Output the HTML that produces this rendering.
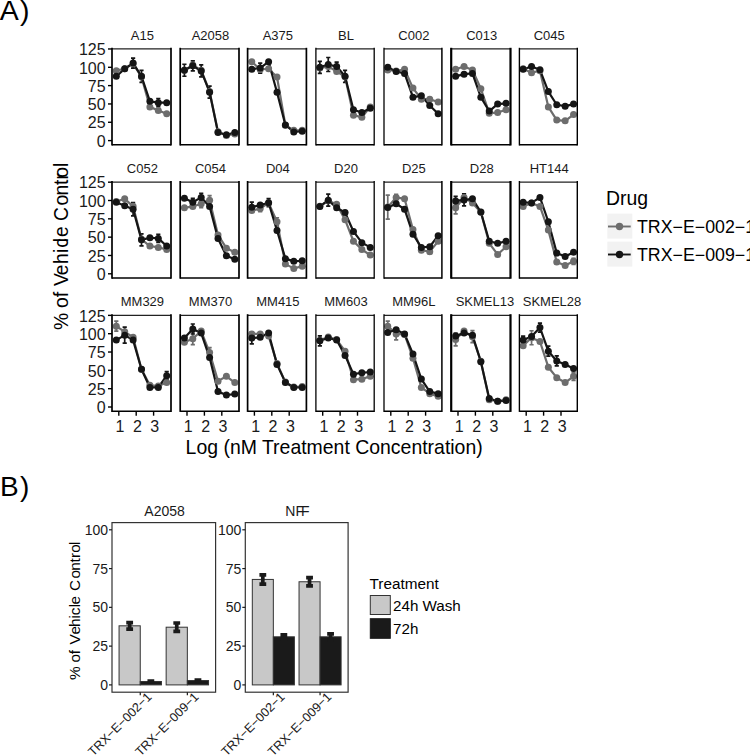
<!DOCTYPE html><html><head><meta charset="utf-8"><style>html,body{margin:0;padding:0;background:#fff;}svg{display:block;}text{font-family:"Liberation Sans", sans-serif;}</style></head><body>
<svg width="750" height="755" viewBox="0 0 750 755">
<rect width="750" height="755" fill="#fff"/>
<text x="-0.3" y="19.6" font-size="28.5" fill="#000">A<tspan dx="1.4">)</tspan></text>
<text x="142.40" y="39.60" font-size="13" text-anchor="middle" fill="#1a1a1a">A15</text>
<path d="M116.30 69.17V72.17M114.20 69.17H118.40M114.20 72.17H118.40" stroke="#6d6d6d" stroke-width="1.7" fill="none"/>
<path d="M124.70 67.27V70.27M122.60 67.27H126.80M122.60 70.27H126.80" stroke="#6d6d6d" stroke-width="1.7" fill="none"/>
<path d="M133.10 62.13V65.13M131.00 62.13H135.20M131.00 65.13H135.20" stroke="#6d6d6d" stroke-width="1.7" fill="none"/>
<path d="M141.50 75.33V78.33M139.40 75.33H143.60M139.40 78.33H143.60" stroke="#6d6d6d" stroke-width="1.7" fill="none"/>
<path d="M149.90 105.38V108.38M147.80 105.38H152.00M147.80 108.38H152.00" stroke="#6d6d6d" stroke-width="1.7" fill="none"/>
<path d="M158.30 108.90V111.90M156.20 108.90H160.40M156.20 111.90H160.40" stroke="#6d6d6d" stroke-width="1.7" fill="none"/>
<path d="M166.70 112.27V115.27M164.60 112.27H168.80M164.60 115.27H168.80" stroke="#6d6d6d" stroke-width="1.7" fill="none"/>
<path d="M116.30 74.82V77.82M114.20 74.82H118.40M114.20 77.82H118.40" stroke="#151515" stroke-width="1.7" fill="none"/>
<path d="M124.70 67.27V70.27M122.60 67.27H126.80M122.60 70.27H126.80" stroke="#151515" stroke-width="1.7" fill="none"/>
<path d="M133.10 58.12V68.12M131.00 58.12H135.20M131.00 68.12H135.20" stroke="#151515" stroke-width="1.7" fill="none"/>
<path d="M141.50 70.32V82.32M139.40 70.32H143.60M139.40 82.32H143.60" stroke="#151515" stroke-width="1.7" fill="none"/>
<path d="M149.90 99.81V102.81M147.80 99.81H152.00M147.80 102.81H152.00" stroke="#151515" stroke-width="1.7" fill="none"/>
<path d="M158.30 98.70V106.70M156.20 98.70H160.40M156.20 106.70H160.40" stroke="#151515" stroke-width="1.7" fill="none"/>
<path d="M166.70 101.20V104.20M164.60 101.20H168.80M164.60 104.20H168.80" stroke="#151515" stroke-width="1.7" fill="none"/>
<polyline points="116.30,70.67 124.70,68.77 133.10,63.63 141.50,76.83 149.90,106.88 158.30,110.40 166.70,113.77" fill="none" stroke="#6d6d6d" stroke-width="2.2" stroke-linejoin="round"/>
<polyline points="116.30,76.32 124.70,68.77 133.10,63.12 141.50,76.32 149.90,101.31 158.30,102.70 166.70,102.70" fill="none" stroke="#151515" stroke-width="2.2" stroke-linejoin="round"/>
<circle cx="116.30" cy="70.67" r="3.50" fill="#6d6d6d"/>
<circle cx="124.70" cy="68.77" r="3.50" fill="#6d6d6d"/>
<circle cx="133.10" cy="63.63" r="3.50" fill="#6d6d6d"/>
<circle cx="141.50" cy="76.83" r="3.50" fill="#6d6d6d"/>
<circle cx="149.90" cy="106.88" r="3.50" fill="#6d6d6d"/>
<circle cx="158.30" cy="110.40" r="3.50" fill="#6d6d6d"/>
<circle cx="166.70" cy="113.77" r="3.50" fill="#6d6d6d"/>
<circle cx="116.30" cy="76.32" r="3.50" fill="#151515"/>
<circle cx="124.70" cy="68.77" r="3.50" fill="#151515"/>
<circle cx="133.10" cy="63.12" r="3.50" fill="#151515"/>
<circle cx="141.50" cy="76.32" r="3.50" fill="#151515"/>
<circle cx="149.90" cy="101.31" r="3.50" fill="#151515"/>
<circle cx="158.30" cy="102.70" r="3.50" fill="#151515"/>
<circle cx="166.70" cy="102.70" r="3.50" fill="#151515"/>
<path d="M112.00 48.90H171.00" stroke="#222" stroke-width="1.2" fill="none"/>
<path d="M112.00 144.80H171.00" stroke="#000" stroke-width="1.4" fill="none"/>
<path d="M112.00 47.80V145.50" stroke="#000" stroke-width="1.70" fill="none"/>
<path d="M171.00 47.80V145.50" stroke="#000" stroke-width="1.70" fill="none"/>
<line x1="108.00" y1="140.60" x2="112.00" y2="140.60" stroke="#000" stroke-width="1.4"/>
<text x="105.6" y="146.80" font-size="16" text-anchor="end" fill="#1a1a1a">0</text>
<line x1="108.00" y1="122.27" x2="112.00" y2="122.27" stroke="#000" stroke-width="1.4"/>
<text x="105.6" y="128.47" font-size="16" text-anchor="end" fill="#1a1a1a">25</text>
<line x1="108.00" y1="103.95" x2="112.00" y2="103.95" stroke="#000" stroke-width="1.4"/>
<text x="105.6" y="110.15" font-size="16" text-anchor="end" fill="#1a1a1a">50</text>
<line x1="108.00" y1="85.62" x2="112.00" y2="85.62" stroke="#000" stroke-width="1.4"/>
<text x="105.6" y="91.83" font-size="16" text-anchor="end" fill="#1a1a1a">75</text>
<line x1="108.00" y1="67.30" x2="112.00" y2="67.30" stroke="#000" stroke-width="1.4"/>
<text x="105.6" y="73.50" font-size="16" text-anchor="end" fill="#1a1a1a">100</text>
<line x1="108.00" y1="48.97" x2="112.00" y2="48.97" stroke="#000" stroke-width="1.4"/>
<text x="105.6" y="55.17" font-size="16" text-anchor="end" fill="#1a1a1a">125</text>
<text x="210.50" y="39.60" font-size="13" text-anchor="middle" fill="#1a1a1a">A2058</text>
<path d="M184.40 68.73V71.73M182.30 68.73H186.50M182.30 71.73H186.50" stroke="#6d6d6d" stroke-width="1.7" fill="none"/>
<path d="M192.80 63.60V66.60M190.70 63.60H194.90M190.70 66.60H194.90" stroke="#6d6d6d" stroke-width="1.7" fill="none"/>
<path d="M201.20 68.73V71.73M199.10 68.73H203.30M199.10 71.73H203.30" stroke="#6d6d6d" stroke-width="1.7" fill="none"/>
<path d="M209.60 89.99V92.99M207.50 89.99H211.70M207.50 92.99H211.70" stroke="#6d6d6d" stroke-width="1.7" fill="none"/>
<path d="M218.00 130.30V133.30M215.90 130.30H220.10M215.90 133.30H220.10" stroke="#6d6d6d" stroke-width="1.7" fill="none"/>
<path d="M226.40 133.97V136.97M224.30 133.97H228.50M224.30 136.97H228.50" stroke="#6d6d6d" stroke-width="1.7" fill="none"/>
<path d="M234.80 132.50V135.50M232.70 132.50H236.90M232.70 135.50H236.90" stroke="#6d6d6d" stroke-width="1.7" fill="none"/>
<path d="M184.40 64.23V76.23M182.30 64.23H186.50M182.30 76.23H186.50" stroke="#151515" stroke-width="1.7" fill="none"/>
<path d="M192.80 60.83V70.83M190.70 60.83H194.90M190.70 70.83H194.90" stroke="#151515" stroke-width="1.7" fill="none"/>
<path d="M201.20 64.96V76.96M199.10 64.96H203.30M199.10 76.96H203.30" stroke="#151515" stroke-width="1.7" fill="none"/>
<path d="M209.60 86.22V98.22M207.50 86.22H211.70M207.50 98.22H211.70" stroke="#151515" stroke-width="1.7" fill="none"/>
<path d="M218.00 131.04V134.04M215.90 131.04H220.10M215.90 134.04H220.10" stroke="#151515" stroke-width="1.7" fill="none"/>
<path d="M226.40 133.24V136.24M224.30 133.24H228.50M224.30 136.24H228.50" stroke="#151515" stroke-width="1.7" fill="none"/>
<path d="M234.80 131.04V134.04M232.70 131.04H236.90M232.70 134.04H236.90" stroke="#151515" stroke-width="1.7" fill="none"/>
<polyline points="184.40,70.23 192.80,65.10 201.20,70.23 209.60,91.49 218.00,131.80 226.40,135.47 234.80,134.00" fill="none" stroke="#6d6d6d" stroke-width="2.2" stroke-linejoin="round"/>
<polyline points="184.40,70.23 192.80,65.83 201.20,70.96 209.60,92.22 218.00,132.54 226.40,134.74 234.80,132.54" fill="none" stroke="#151515" stroke-width="2.2" stroke-linejoin="round"/>
<circle cx="184.40" cy="70.23" r="3.50" fill="#6d6d6d"/>
<circle cx="192.80" cy="65.10" r="3.50" fill="#6d6d6d"/>
<circle cx="201.20" cy="70.23" r="3.50" fill="#6d6d6d"/>
<circle cx="209.60" cy="91.49" r="3.50" fill="#6d6d6d"/>
<circle cx="218.00" cy="131.80" r="3.50" fill="#6d6d6d"/>
<circle cx="226.40" cy="135.47" r="3.50" fill="#6d6d6d"/>
<circle cx="234.80" cy="134.00" r="3.50" fill="#6d6d6d"/>
<circle cx="184.40" cy="70.23" r="3.50" fill="#151515"/>
<circle cx="192.80" cy="65.83" r="3.50" fill="#151515"/>
<circle cx="201.20" cy="70.96" r="3.50" fill="#151515"/>
<circle cx="209.60" cy="92.22" r="3.50" fill="#151515"/>
<circle cx="218.00" cy="132.54" r="3.50" fill="#151515"/>
<circle cx="226.40" cy="134.74" r="3.50" fill="#151515"/>
<circle cx="234.80" cy="132.54" r="3.50" fill="#151515"/>
<path d="M180.20 48.90H239.00" stroke="#222" stroke-width="1.2" fill="none"/>
<path d="M180.20 144.80H239.00" stroke="#000" stroke-width="1.4" fill="none"/>
<path d="M180.20 47.80V145.50" stroke="#000" stroke-width="1.70" fill="none"/>
<path d="M239.00 47.80V145.50" stroke="#000" stroke-width="1.70" fill="none"/>
<text x="277.90" y="39.60" font-size="13" text-anchor="middle" fill="#1a1a1a">A375</text>
<path d="M251.80 60.16V63.16M249.70 60.16H253.90M249.70 63.16H253.90" stroke="#6d6d6d" stroke-width="1.7" fill="none"/>
<path d="M260.20 68.00V71.00M258.10 68.00H262.30M258.10 71.00H262.30" stroke="#6d6d6d" stroke-width="1.7" fill="none"/>
<path d="M268.60 67.27V70.27M266.50 67.27H270.70M266.50 70.27H270.70" stroke="#6d6d6d" stroke-width="1.7" fill="none"/>
<path d="M277.00 75.48V78.48M274.90 75.48H279.10M274.90 78.48H279.10" stroke="#6d6d6d" stroke-width="1.7" fill="none"/>
<path d="M285.40 123.71V126.71M283.30 123.71H287.50M283.30 126.71H287.50" stroke="#6d6d6d" stroke-width="1.7" fill="none"/>
<path d="M293.80 128.84V131.84M291.70 128.84H295.90M291.70 131.84H295.90" stroke="#6d6d6d" stroke-width="1.7" fill="none"/>
<path d="M302.20 128.84V131.84M300.10 128.84H304.30M300.10 131.84H304.30" stroke="#6d6d6d" stroke-width="1.7" fill="none"/>
<path d="M251.80 67.78V70.78M249.70 67.78H253.90M249.70 70.78H253.90" stroke="#151515" stroke-width="1.7" fill="none"/>
<path d="M260.20 63.03V73.03M258.10 63.03H262.30M258.10 73.03H262.30" stroke="#151515" stroke-width="1.7" fill="none"/>
<path d="M268.60 60.16V63.16M266.50 60.16H270.70M266.50 63.16H270.70" stroke="#151515" stroke-width="1.7" fill="none"/>
<path d="M277.00 90.72V93.72M274.90 90.72H279.10M274.90 93.72H279.10" stroke="#151515" stroke-width="1.7" fill="none"/>
<path d="M285.40 123.49V126.49M283.30 123.49H287.50M283.30 126.49H287.50" stroke="#151515" stroke-width="1.7" fill="none"/>
<path d="M293.80 130.38V133.38M291.70 130.38H295.90M291.70 133.38H295.90" stroke="#151515" stroke-width="1.7" fill="none"/>
<path d="M302.20 129.72V132.72M300.10 129.72H304.30M300.10 132.72H304.30" stroke="#151515" stroke-width="1.7" fill="none"/>
<polyline points="251.80,61.66 260.20,69.50 268.60,68.77 277.00,76.98 285.40,125.21 293.80,130.34 302.20,130.34" fill="none" stroke="#6d6d6d" stroke-width="2.2" stroke-linejoin="round"/>
<polyline points="251.80,69.28 260.20,68.03 268.60,61.66 277.00,92.22 285.40,124.99 293.80,131.88 302.20,131.22" fill="none" stroke="#151515" stroke-width="2.2" stroke-linejoin="round"/>
<circle cx="251.80" cy="61.66" r="3.50" fill="#6d6d6d"/>
<circle cx="260.20" cy="69.50" r="3.50" fill="#6d6d6d"/>
<circle cx="268.60" cy="68.77" r="3.50" fill="#6d6d6d"/>
<circle cx="277.00" cy="76.98" r="3.50" fill="#6d6d6d"/>
<circle cx="285.40" cy="125.21" r="3.50" fill="#6d6d6d"/>
<circle cx="293.80" cy="130.34" r="3.50" fill="#6d6d6d"/>
<circle cx="302.20" cy="130.34" r="3.50" fill="#6d6d6d"/>
<circle cx="251.80" cy="69.28" r="3.50" fill="#151515"/>
<circle cx="260.20" cy="68.03" r="3.50" fill="#151515"/>
<circle cx="268.60" cy="61.66" r="3.50" fill="#151515"/>
<circle cx="277.00" cy="92.22" r="3.50" fill="#151515"/>
<circle cx="285.40" cy="124.99" r="3.50" fill="#151515"/>
<circle cx="293.80" cy="131.88" r="3.50" fill="#151515"/>
<circle cx="302.20" cy="131.22" r="3.50" fill="#151515"/>
<path d="M247.60 48.90H306.40" stroke="#222" stroke-width="1.2" fill="none"/>
<path d="M247.60 144.80H306.40" stroke="#000" stroke-width="1.4" fill="none"/>
<path d="M247.60 47.80V145.50" stroke="#000" stroke-width="1.70" fill="none"/>
<path d="M306.40 47.80V145.50" stroke="#000" stroke-width="1.70" fill="none"/>
<text x="345.95" y="39.60" font-size="13" text-anchor="middle" fill="#1a1a1a">BL</text>
<path d="M319.85 66.53V69.53M317.75 66.53H321.95M317.75 69.53H321.95" stroke="#6d6d6d" stroke-width="1.7" fill="none"/>
<path d="M328.25 65.07V68.07M326.15 65.07H330.35M326.15 68.07H330.35" stroke="#6d6d6d" stroke-width="1.7" fill="none"/>
<path d="M336.65 69.90V72.90M334.55 69.90H338.75M334.55 72.90H338.75" stroke="#6d6d6d" stroke-width="1.7" fill="none"/>
<path d="M345.05 75.33V78.33M342.95 75.33H347.15M342.95 78.33H347.15" stroke="#6d6d6d" stroke-width="1.7" fill="none"/>
<path d="M353.45 113.66V116.66M351.35 113.66H355.55M351.35 116.66H355.55" stroke="#6d6d6d" stroke-width="1.7" fill="none"/>
<path d="M361.85 115.79V118.79M359.75 115.79H363.95M359.75 118.79H363.95" stroke="#6d6d6d" stroke-width="1.7" fill="none"/>
<path d="M370.25 105.38V108.38M368.15 105.38H372.35M368.15 108.38H372.35" stroke="#6d6d6d" stroke-width="1.7" fill="none"/>
<path d="M319.85 61.30V73.30M317.75 61.30H321.95M317.75 73.30H321.95" stroke="#151515" stroke-width="1.7" fill="none"/>
<path d="M328.25 57.51V71.51M326.15 57.51H330.35M326.15 71.51H330.35" stroke="#151515" stroke-width="1.7" fill="none"/>
<path d="M336.65 62.07V71.07M334.55 62.07H338.75M334.55 71.07H338.75" stroke="#151515" stroke-width="1.7" fill="none"/>
<path d="M345.05 70.32V82.32M342.95 70.32H347.15M342.95 82.32H347.15" stroke="#151515" stroke-width="1.7" fill="none"/>
<path d="M353.45 108.17V111.17M351.35 108.17H355.55M351.35 111.17H355.55" stroke="#151515" stroke-width="1.7" fill="none"/>
<path d="M361.85 111.03V114.03M359.75 111.03H363.95M359.75 114.03H363.95" stroke="#151515" stroke-width="1.7" fill="none"/>
<path d="M370.25 106.85V109.85M368.15 106.85H372.35M368.15 109.85H372.35" stroke="#151515" stroke-width="1.7" fill="none"/>
<polyline points="319.85,68.03 328.25,66.57 336.65,71.40 345.05,76.83 353.45,115.16 361.85,117.29 370.25,106.88" fill="none" stroke="#6d6d6d" stroke-width="2.2" stroke-linejoin="round"/>
<polyline points="319.85,67.30 328.25,64.51 336.65,66.57 345.05,76.32 353.45,109.67 361.85,112.53 370.25,108.35" fill="none" stroke="#151515" stroke-width="2.2" stroke-linejoin="round"/>
<circle cx="319.85" cy="68.03" r="3.50" fill="#6d6d6d"/>
<circle cx="328.25" cy="66.57" r="3.50" fill="#6d6d6d"/>
<circle cx="336.65" cy="71.40" r="3.50" fill="#6d6d6d"/>
<circle cx="345.05" cy="76.83" r="3.50" fill="#6d6d6d"/>
<circle cx="353.45" cy="115.16" r="3.50" fill="#6d6d6d"/>
<circle cx="361.85" cy="117.29" r="3.50" fill="#6d6d6d"/>
<circle cx="370.25" cy="106.88" r="3.50" fill="#6d6d6d"/>
<circle cx="319.85" cy="67.30" r="3.50" fill="#151515"/>
<circle cx="328.25" cy="64.51" r="3.50" fill="#151515"/>
<circle cx="336.65" cy="66.57" r="3.50" fill="#151515"/>
<circle cx="345.05" cy="76.32" r="3.50" fill="#151515"/>
<circle cx="353.45" cy="109.67" r="3.50" fill="#151515"/>
<circle cx="361.85" cy="112.53" r="3.50" fill="#151515"/>
<circle cx="370.25" cy="108.35" r="3.50" fill="#151515"/>
<path d="M315.90 48.90H374.20" stroke="#222" stroke-width="1.2" fill="none"/>
<path d="M315.90 144.80H374.20" stroke="#000" stroke-width="1.4" fill="none"/>
<path d="M315.90 47.80V145.50" stroke="#000" stroke-width="1.30" fill="none"/>
<path d="M374.20 47.80V145.50" stroke="#000" stroke-width="1.30" fill="none"/>
<text x="413.85" y="39.60" font-size="13" text-anchor="middle" fill="#1a1a1a">C002</text>
<path d="M387.75 68.51V71.51M385.65 68.51H389.85M385.65 71.51H389.85" stroke="#6d6d6d" stroke-width="1.7" fill="none"/>
<path d="M396.15 69.46V72.46M394.05 69.46H398.25M394.05 72.46H398.25" stroke="#6d6d6d" stroke-width="1.7" fill="none"/>
<path d="M404.55 67.78V70.78M402.45 67.78H406.65M402.45 70.78H406.65" stroke="#6d6d6d" stroke-width="1.7" fill="none"/>
<path d="M412.95 86.62V89.62M410.85 86.62H415.05M410.85 89.62H415.05" stroke="#6d6d6d" stroke-width="1.7" fill="none"/>
<path d="M421.35 97.69V100.69M419.25 97.69H423.45M419.25 100.69H423.45" stroke="#6d6d6d" stroke-width="1.7" fill="none"/>
<path d="M429.75 97.69V100.69M427.65 97.69H431.85M427.65 100.69H431.85" stroke="#6d6d6d" stroke-width="1.7" fill="none"/>
<path d="M438.15 100.47V103.47M436.05 100.47H440.25M436.05 103.47H440.25" stroke="#6d6d6d" stroke-width="1.7" fill="none"/>
<path d="M387.75 65.80V68.80M385.65 65.80H389.85M385.65 68.80H389.85" stroke="#151515" stroke-width="1.7" fill="none"/>
<path d="M396.15 69.90V72.90M394.05 69.90H398.25M394.05 72.90H398.25" stroke="#151515" stroke-width="1.7" fill="none"/>
<path d="M404.55 71.96V74.96M402.45 71.96H406.65M402.45 74.96H406.65" stroke="#151515" stroke-width="1.7" fill="none"/>
<path d="M412.95 95.71V98.71M410.85 95.71H415.05M410.85 98.71H415.05" stroke="#151515" stroke-width="1.7" fill="none"/>
<path d="M421.35 94.31V97.31M419.25 94.31H423.45M419.25 97.31H423.45" stroke="#151515" stroke-width="1.7" fill="none"/>
<path d="M429.75 103.99V106.99M427.65 103.99H431.85M427.65 106.99H431.85" stroke="#151515" stroke-width="1.7" fill="none"/>
<path d="M438.15 112.27V115.27M436.05 112.27H440.25M436.05 115.27H440.25" stroke="#151515" stroke-width="1.7" fill="none"/>
<polyline points="387.75,70.01 396.15,70.96 404.55,69.28 412.95,88.12 421.35,99.19 429.75,99.19 438.15,101.97" fill="none" stroke="#6d6d6d" stroke-width="2.2" stroke-linejoin="round"/>
<polyline points="387.75,67.30 396.15,71.40 404.55,73.46 412.95,97.21 421.35,95.81 429.75,105.49 438.15,113.77" fill="none" stroke="#151515" stroke-width="2.2" stroke-linejoin="round"/>
<circle cx="387.75" cy="70.01" r="3.50" fill="#6d6d6d"/>
<circle cx="396.15" cy="70.96" r="3.50" fill="#6d6d6d"/>
<circle cx="404.55" cy="69.28" r="3.50" fill="#6d6d6d"/>
<circle cx="412.95" cy="88.12" r="3.50" fill="#6d6d6d"/>
<circle cx="421.35" cy="99.19" r="3.50" fill="#6d6d6d"/>
<circle cx="429.75" cy="99.19" r="3.50" fill="#6d6d6d"/>
<circle cx="438.15" cy="101.97" r="3.50" fill="#6d6d6d"/>
<circle cx="387.75" cy="67.30" r="3.50" fill="#151515"/>
<circle cx="396.15" cy="71.40" r="3.50" fill="#151515"/>
<circle cx="404.55" cy="73.46" r="3.50" fill="#151515"/>
<circle cx="412.95" cy="97.21" r="3.50" fill="#151515"/>
<circle cx="421.35" cy="95.81" r="3.50" fill="#151515"/>
<circle cx="429.75" cy="105.49" r="3.50" fill="#151515"/>
<circle cx="438.15" cy="113.77" r="3.50" fill="#151515"/>
<path d="M384.00 48.90H441.90" stroke="#222" stroke-width="1.2" fill="none"/>
<path d="M384.00 144.80H441.90" stroke="#000" stroke-width="1.4" fill="none"/>
<path d="M384.00 47.80V145.50" stroke="#000" stroke-width="1.30" fill="none"/>
<path d="M441.90 47.80V145.50" stroke="#000" stroke-width="1.50" fill="none"/>
<text x="481.75" y="39.60" font-size="13" text-anchor="middle" fill="#1a1a1a">C013</text>
<path d="M455.65 67.78V70.78M453.55 67.78H457.75M453.55 70.78H457.75" stroke="#6d6d6d" stroke-width="1.7" fill="none"/>
<path d="M464.05 65.07V68.07M461.95 65.07H466.15M461.95 68.07H466.15" stroke="#6d6d6d" stroke-width="1.7" fill="none"/>
<path d="M472.45 68.51V71.51M470.35 68.51H474.55M470.35 71.51H474.55" stroke="#6d6d6d" stroke-width="1.7" fill="none"/>
<path d="M480.85 87.28V90.28M478.75 87.28H482.95M478.75 90.28H482.95" stroke="#6d6d6d" stroke-width="1.7" fill="none"/>
<path d="M489.25 111.69V114.69M487.15 111.69H491.35M487.15 114.69H491.35" stroke="#6d6d6d" stroke-width="1.7" fill="none"/>
<path d="M497.65 111.03V114.03M495.55 111.03H499.75M495.55 114.03H499.75" stroke="#6d6d6d" stroke-width="1.7" fill="none"/>
<path d="M506.05 108.17V111.17M503.95 108.17H508.15M503.95 111.17H508.15" stroke="#6d6d6d" stroke-width="1.7" fill="none"/>
<path d="M455.65 74.82V77.82M453.55 74.82H457.75M453.55 77.82H457.75" stroke="#151515" stroke-width="1.7" fill="none"/>
<path d="M464.05 72.69V75.69M461.95 72.69H466.15M461.95 75.69H466.15" stroke="#151515" stroke-width="1.7" fill="none"/>
<path d="M472.45 71.96V74.96M470.35 71.96H474.55M470.35 74.96H474.55" stroke="#151515" stroke-width="1.7" fill="none"/>
<path d="M480.85 95.71V98.71M478.75 95.71H482.95M478.75 98.71H482.95" stroke="#151515" stroke-width="1.7" fill="none"/>
<path d="M489.25 109.56V112.56M487.15 109.56H491.35M487.15 112.56H491.35" stroke="#151515" stroke-width="1.7" fill="none"/>
<path d="M497.65 102.60V105.60M495.55 102.60H499.75M495.55 105.60H499.75" stroke="#151515" stroke-width="1.7" fill="none"/>
<path d="M506.05 101.86V104.86M503.95 101.86H508.15M503.95 104.86H508.15" stroke="#151515" stroke-width="1.7" fill="none"/>
<polyline points="455.65,69.28 464.05,66.57 472.45,70.01 480.85,88.78 489.25,113.19 497.65,112.53 506.05,109.67" fill="none" stroke="#6d6d6d" stroke-width="2.2" stroke-linejoin="round"/>
<polyline points="455.65,76.32 464.05,74.19 472.45,73.46 480.85,97.21 489.25,111.06 497.65,104.10 506.05,103.36" fill="none" stroke="#151515" stroke-width="2.2" stroke-linejoin="round"/>
<circle cx="455.65" cy="69.28" r="3.50" fill="#6d6d6d"/>
<circle cx="464.05" cy="66.57" r="3.50" fill="#6d6d6d"/>
<circle cx="472.45" cy="70.01" r="3.50" fill="#6d6d6d"/>
<circle cx="480.85" cy="88.78" r="3.50" fill="#6d6d6d"/>
<circle cx="489.25" cy="113.19" r="3.50" fill="#6d6d6d"/>
<circle cx="497.65" cy="112.53" r="3.50" fill="#6d6d6d"/>
<circle cx="506.05" cy="109.67" r="3.50" fill="#6d6d6d"/>
<circle cx="455.65" cy="76.32" r="3.50" fill="#151515"/>
<circle cx="464.05" cy="74.19" r="3.50" fill="#151515"/>
<circle cx="472.45" cy="73.46" r="3.50" fill="#151515"/>
<circle cx="480.85" cy="97.21" r="3.50" fill="#151515"/>
<circle cx="489.25" cy="111.06" r="3.50" fill="#151515"/>
<circle cx="497.65" cy="104.10" r="3.50" fill="#151515"/>
<circle cx="506.05" cy="103.36" r="3.50" fill="#151515"/>
<path d="M451.20 48.90H510.50" stroke="#222" stroke-width="1.2" fill="none"/>
<path d="M451.20 144.80H510.50" stroke="#000" stroke-width="1.4" fill="none"/>
<path d="M451.20 47.80V145.50" stroke="#000" stroke-width="2.20" fill="none"/>
<path d="M510.50 47.80V145.50" stroke="#000" stroke-width="2.20" fill="none"/>
<text x="549.25" y="39.60" font-size="13" text-anchor="middle" fill="#1a1a1a">C045</text>
<path d="M523.15 67.27V70.27M521.05 67.27H525.25M521.05 70.27H525.25" stroke="#6d6d6d" stroke-width="1.7" fill="none"/>
<path d="M531.55 71.30V74.30M529.45 71.30H533.65M529.45 74.30H533.65" stroke="#6d6d6d" stroke-width="1.7" fill="none"/>
<path d="M539.95 69.17V72.17M537.85 69.17H542.05M537.85 72.17H542.05" stroke="#6d6d6d" stroke-width="1.7" fill="none"/>
<path d="M548.35 105.38V108.38M546.25 105.38H550.45M546.25 108.38H550.45" stroke="#6d6d6d" stroke-width="1.7" fill="none"/>
<path d="M556.75 118.58V121.58M554.65 118.58H558.85M554.65 121.58H558.85" stroke="#6d6d6d" stroke-width="1.7" fill="none"/>
<path d="M565.15 119.31V122.31M563.05 119.31H567.25M563.05 122.31H567.25" stroke="#6d6d6d" stroke-width="1.7" fill="none"/>
<path d="M573.55 113.01V116.01M571.45 113.01H575.65M571.45 116.01H575.65" stroke="#6d6d6d" stroke-width="1.7" fill="none"/>
<path d="M523.15 67.78V70.78M521.05 67.78H525.25M521.05 70.78H525.25" stroke="#151515" stroke-width="1.7" fill="none"/>
<path d="M531.55 65.07V68.07M529.45 65.07H533.65M529.45 68.07H533.65" stroke="#151515" stroke-width="1.7" fill="none"/>
<path d="M539.95 68.29V71.29M537.85 68.29H542.05M537.85 71.29H542.05" stroke="#151515" stroke-width="1.7" fill="none"/>
<path d="M548.35 90.06V93.06M546.25 90.06H550.45M546.25 93.06H550.45" stroke="#151515" stroke-width="1.7" fill="none"/>
<path d="M556.75 103.26V106.26M554.65 103.26H558.85M554.65 106.26H558.85" stroke="#151515" stroke-width="1.7" fill="none"/>
<path d="M565.15 104.65V107.65M563.05 104.65H567.25M563.05 107.65H567.25" stroke="#151515" stroke-width="1.7" fill="none"/>
<path d="M573.55 102.60V105.60M571.45 102.60H575.65M571.45 105.60H575.65" stroke="#151515" stroke-width="1.7" fill="none"/>
<polyline points="523.15,68.77 531.55,72.80 539.95,70.67 548.35,106.88 556.75,120.08 565.15,120.81 573.55,114.51" fill="none" stroke="#6d6d6d" stroke-width="2.2" stroke-linejoin="round"/>
<polyline points="523.15,69.28 531.55,66.57 539.95,69.79 548.35,91.56 556.75,104.76 565.15,106.15 573.55,104.10" fill="none" stroke="#151515" stroke-width="2.2" stroke-linejoin="round"/>
<circle cx="523.15" cy="68.77" r="3.50" fill="#6d6d6d"/>
<circle cx="531.55" cy="72.80" r="3.50" fill="#6d6d6d"/>
<circle cx="539.95" cy="70.67" r="3.50" fill="#6d6d6d"/>
<circle cx="548.35" cy="106.88" r="3.50" fill="#6d6d6d"/>
<circle cx="556.75" cy="120.08" r="3.50" fill="#6d6d6d"/>
<circle cx="565.15" cy="120.81" r="3.50" fill="#6d6d6d"/>
<circle cx="573.55" cy="114.51" r="3.50" fill="#6d6d6d"/>
<circle cx="523.15" cy="69.28" r="3.50" fill="#151515"/>
<circle cx="531.55" cy="66.57" r="3.50" fill="#151515"/>
<circle cx="539.95" cy="69.79" r="3.50" fill="#151515"/>
<circle cx="548.35" cy="91.56" r="3.50" fill="#151515"/>
<circle cx="556.75" cy="104.76" r="3.50" fill="#151515"/>
<circle cx="565.15" cy="106.15" r="3.50" fill="#151515"/>
<circle cx="573.55" cy="104.10" r="3.50" fill="#151515"/>
<path d="M519.40 48.90H577.30" stroke="#222" stroke-width="1.2" fill="none"/>
<path d="M519.40 144.80H577.30" stroke="#000" stroke-width="1.4" fill="none"/>
<path d="M519.40 47.80V145.50" stroke="#000" stroke-width="1.40" fill="none"/>
<path d="M577.30 47.80V145.50" stroke="#000" stroke-width="1.40" fill="none"/>
<text x="142.40" y="172.80" font-size="13" text-anchor="middle" fill="#1a1a1a">C052</text>
<path d="M116.30 200.10V203.10M114.20 200.10H118.40M114.20 203.10H118.40" stroke="#6d6d6d" stroke-width="1.7" fill="none"/>
<path d="M124.70 197.31V200.31M122.60 197.31H126.80M122.60 200.31H126.80" stroke="#6d6d6d" stroke-width="1.7" fill="none"/>
<path d="M133.10 204.86V207.86M131.00 204.86H135.20M131.00 207.86H135.20" stroke="#6d6d6d" stroke-width="1.7" fill="none"/>
<path d="M141.50 237.85V240.85M139.40 237.85H143.60M139.40 240.85H143.60" stroke="#6d6d6d" stroke-width="1.7" fill="none"/>
<path d="M149.90 244.52V247.52M147.80 244.52H152.00M147.80 247.52H152.00" stroke="#6d6d6d" stroke-width="1.7" fill="none"/>
<path d="M158.30 245.91V248.91M156.20 245.91H160.40M156.20 248.91H160.40" stroke="#6d6d6d" stroke-width="1.7" fill="none"/>
<path d="M166.70 248.04V251.04M164.60 248.04H168.80M164.60 251.04H168.80" stroke="#6d6d6d" stroke-width="1.7" fill="none"/>
<path d="M116.30 200.76V203.76M114.20 200.76H118.40M114.20 203.76H118.40" stroke="#151515" stroke-width="1.7" fill="none"/>
<path d="M124.70 204.20V207.20M122.60 204.20H126.80M122.60 207.20H126.80" stroke="#151515" stroke-width="1.7" fill="none"/>
<path d="M133.10 202.62V215.82M131.00 202.62H135.20M131.00 215.82H135.20" stroke="#151515" stroke-width="1.7" fill="none"/>
<path d="M141.50 233.86V245.86M139.40 233.86H143.60M139.40 245.86H143.60" stroke="#151515" stroke-width="1.7" fill="none"/>
<path d="M149.90 236.24V239.24M147.80 236.24H152.00M147.80 239.24H152.00" stroke="#151515" stroke-width="1.7" fill="none"/>
<path d="M158.30 234.40V242.40M156.20 234.40H160.40M156.20 242.40H160.40" stroke="#151515" stroke-width="1.7" fill="none"/>
<path d="M166.70 244.52V247.52M164.60 244.52H168.80M164.60 247.52H168.80" stroke="#151515" stroke-width="1.7" fill="none"/>
<polyline points="116.30,201.60 124.70,198.81 133.10,206.36 141.50,239.35 149.90,246.02 158.30,247.41 166.70,249.54" fill="none" stroke="#6d6d6d" stroke-width="2.2" stroke-linejoin="round"/>
<polyline points="116.30,202.26 124.70,205.70 133.10,209.22 141.50,239.86 149.90,237.74 158.30,238.40 166.70,246.02" fill="none" stroke="#151515" stroke-width="2.2" stroke-linejoin="round"/>
<circle cx="116.30" cy="201.60" r="3.50" fill="#6d6d6d"/>
<circle cx="124.70" cy="198.81" r="3.50" fill="#6d6d6d"/>
<circle cx="133.10" cy="206.36" r="3.50" fill="#6d6d6d"/>
<circle cx="141.50" cy="239.35" r="3.50" fill="#6d6d6d"/>
<circle cx="149.90" cy="246.02" r="3.50" fill="#6d6d6d"/>
<circle cx="158.30" cy="247.41" r="3.50" fill="#6d6d6d"/>
<circle cx="166.70" cy="249.54" r="3.50" fill="#6d6d6d"/>
<circle cx="116.30" cy="202.26" r="3.50" fill="#151515"/>
<circle cx="124.70" cy="205.70" r="3.50" fill="#151515"/>
<circle cx="133.10" cy="209.22" r="3.50" fill="#151515"/>
<circle cx="141.50" cy="239.86" r="3.50" fill="#151515"/>
<circle cx="149.90" cy="237.74" r="3.50" fill="#151515"/>
<circle cx="158.30" cy="238.40" r="3.50" fill="#151515"/>
<circle cx="166.70" cy="246.02" r="3.50" fill="#151515"/>
<path d="M112.00 182.10H171.00" stroke="#222" stroke-width="1.2" fill="none"/>
<path d="M112.00 278.00H171.00" stroke="#000" stroke-width="1.4" fill="none"/>
<path d="M112.00 181.00V278.70" stroke="#000" stroke-width="1.70" fill="none"/>
<path d="M171.00 181.00V278.70" stroke="#000" stroke-width="1.70" fill="none"/>
<line x1="108.00" y1="273.80" x2="112.00" y2="273.80" stroke="#000" stroke-width="1.4"/>
<text x="105.6" y="280.00" font-size="16" text-anchor="end" fill="#1a1a1a">0</text>
<line x1="108.00" y1="255.48" x2="112.00" y2="255.48" stroke="#000" stroke-width="1.4"/>
<text x="105.6" y="261.68" font-size="16" text-anchor="end" fill="#1a1a1a">25</text>
<line x1="108.00" y1="237.15" x2="112.00" y2="237.15" stroke="#000" stroke-width="1.4"/>
<text x="105.6" y="243.35" font-size="16" text-anchor="end" fill="#1a1a1a">50</text>
<line x1="108.00" y1="218.83" x2="112.00" y2="218.83" stroke="#000" stroke-width="1.4"/>
<text x="105.6" y="225.03" font-size="16" text-anchor="end" fill="#1a1a1a">75</text>
<line x1="108.00" y1="200.50" x2="112.00" y2="200.50" stroke="#000" stroke-width="1.4"/>
<text x="105.6" y="206.70" font-size="16" text-anchor="end" fill="#1a1a1a">100</text>
<line x1="108.00" y1="182.18" x2="112.00" y2="182.18" stroke="#000" stroke-width="1.4"/>
<text x="105.6" y="188.38" font-size="16" text-anchor="end" fill="#1a1a1a">125</text>
<text x="210.50" y="172.80" font-size="13" text-anchor="middle" fill="#1a1a1a">C054</text>
<path d="M184.40 206.33V209.33M182.30 206.33H186.50M182.30 209.33H186.50" stroke="#6d6d6d" stroke-width="1.7" fill="none"/>
<path d="M192.80 204.94V207.94M190.70 204.94H194.90M190.70 207.94H194.90" stroke="#6d6d6d" stroke-width="1.7" fill="none"/>
<path d="M201.20 199.93V207.53M199.10 199.93H203.30M199.10 207.53H203.30" stroke="#6d6d6d" stroke-width="1.7" fill="none"/>
<path d="M209.60 195.71V204.71M207.50 195.71H211.70M207.50 204.71H211.70" stroke="#6d6d6d" stroke-width="1.7" fill="none"/>
<path d="M218.00 233.45V236.45M215.90 233.45H220.10M215.90 236.45H220.10" stroke="#6d6d6d" stroke-width="1.7" fill="none"/>
<path d="M226.40 246.65V249.65M224.30 246.65H228.50M224.30 249.65H228.50" stroke="#6d6d6d" stroke-width="1.7" fill="none"/>
<path d="M234.80 250.82V253.82M232.70 250.82H236.90M232.70 253.82H236.90" stroke="#6d6d6d" stroke-width="1.7" fill="none"/>
<path d="M184.40 196.65V199.65M182.30 196.65H186.50M182.30 199.65H186.50" stroke="#151515" stroke-width="1.7" fill="none"/>
<path d="M192.80 198.46V206.06M190.70 198.46H194.90M190.70 206.06H194.90" stroke="#151515" stroke-width="1.7" fill="none"/>
<path d="M201.20 193.42V201.42M199.10 193.42H203.30M199.10 201.42H203.30" stroke="#151515" stroke-width="1.7" fill="none"/>
<path d="M209.60 204.94V207.94M207.50 204.94H211.70M207.50 207.94H211.70" stroke="#151515" stroke-width="1.7" fill="none"/>
<path d="M218.00 236.90V239.90M215.90 236.90H220.10M215.90 239.90H220.10" stroke="#151515" stroke-width="1.7" fill="none"/>
<path d="M226.40 254.34V257.34M224.30 254.34H228.50M224.30 257.34H228.50" stroke="#151515" stroke-width="1.7" fill="none"/>
<path d="M234.80 257.86V260.86M232.70 257.86H236.90M232.70 260.86H236.90" stroke="#151515" stroke-width="1.7" fill="none"/>
<polyline points="184.40,207.83 192.80,206.44 201.20,203.73 209.60,200.21 218.00,234.95 226.40,248.15 234.80,252.32" fill="none" stroke="#6d6d6d" stroke-width="2.2" stroke-linejoin="round"/>
<polyline points="184.40,198.15 192.80,202.26 201.20,197.42 209.60,206.44 218.00,238.40 226.40,255.84 234.80,259.36" fill="none" stroke="#151515" stroke-width="2.2" stroke-linejoin="round"/>
<circle cx="184.40" cy="207.83" r="3.50" fill="#6d6d6d"/>
<circle cx="192.80" cy="206.44" r="3.50" fill="#6d6d6d"/>
<circle cx="201.20" cy="203.73" r="3.50" fill="#6d6d6d"/>
<circle cx="209.60" cy="200.21" r="3.50" fill="#6d6d6d"/>
<circle cx="218.00" cy="234.95" r="3.50" fill="#6d6d6d"/>
<circle cx="226.40" cy="248.15" r="3.50" fill="#6d6d6d"/>
<circle cx="234.80" cy="252.32" r="3.50" fill="#6d6d6d"/>
<circle cx="184.40" cy="198.15" r="3.50" fill="#151515"/>
<circle cx="192.80" cy="202.26" r="3.50" fill="#151515"/>
<circle cx="201.20" cy="197.42" r="3.50" fill="#151515"/>
<circle cx="209.60" cy="206.44" r="3.50" fill="#151515"/>
<circle cx="218.00" cy="238.40" r="3.50" fill="#151515"/>
<circle cx="226.40" cy="255.84" r="3.50" fill="#151515"/>
<circle cx="234.80" cy="259.36" r="3.50" fill="#151515"/>
<path d="M180.20 182.10H239.00" stroke="#222" stroke-width="1.2" fill="none"/>
<path d="M180.20 278.00H239.00" stroke="#000" stroke-width="1.4" fill="none"/>
<path d="M180.20 181.00V278.70" stroke="#000" stroke-width="1.70" fill="none"/>
<path d="M239.00 181.00V278.70" stroke="#000" stroke-width="1.70" fill="none"/>
<text x="277.90" y="172.80" font-size="13" text-anchor="middle" fill="#1a1a1a">D04</text>
<path d="M251.80 209.12V212.12M249.70 209.12H253.90M249.70 212.12H253.90" stroke="#6d6d6d" stroke-width="1.7" fill="none"/>
<path d="M260.20 205.56V211.56M258.10 205.56H262.30M258.10 211.56H262.30" stroke="#6d6d6d" stroke-width="1.7" fill="none"/>
<path d="M268.60 201.42V204.42M266.50 201.42H270.70M266.50 204.42H270.70" stroke="#6d6d6d" stroke-width="1.7" fill="none"/>
<path d="M277.00 217.76V225.76M274.90 217.76H279.10M274.90 225.76H279.10" stroke="#6d6d6d" stroke-width="1.7" fill="none"/>
<path d="M285.40 262.62V265.62M283.30 262.62H287.50M283.30 265.62H287.50" stroke="#6d6d6d" stroke-width="1.7" fill="none"/>
<path d="M293.80 266.88V269.88M291.70 266.88H295.90M291.70 269.88H295.90" stroke="#6d6d6d" stroke-width="1.7" fill="none"/>
<path d="M302.20 264.75V267.75M300.10 264.75H304.30M300.10 267.75H304.30" stroke="#6d6d6d" stroke-width="1.7" fill="none"/>
<path d="M251.80 202.17V212.17M249.70 202.17H253.90M249.70 212.17H253.90" stroke="#151515" stroke-width="1.7" fill="none"/>
<path d="M260.20 203.54V206.54M258.10 203.54H262.30M258.10 206.54H262.30" stroke="#151515" stroke-width="1.7" fill="none"/>
<path d="M268.60 198.70V206.70M266.50 198.70H270.70M266.50 206.70H270.70" stroke="#151515" stroke-width="1.7" fill="none"/>
<path d="M277.00 229.05V232.05M274.90 229.05H279.10M274.90 232.05H279.10" stroke="#151515" stroke-width="1.7" fill="none"/>
<path d="M285.40 257.13V260.13M283.30 257.13H287.50M283.30 260.13H287.50" stroke="#151515" stroke-width="1.7" fill="none"/>
<path d="M293.80 259.84V262.84M291.70 259.84H295.90M291.70 262.84H295.90" stroke="#151515" stroke-width="1.7" fill="none"/>
<path d="M302.20 259.25V262.25M300.10 259.25H304.30M300.10 262.25H304.30" stroke="#151515" stroke-width="1.7" fill="none"/>
<polyline points="251.80,210.62 260.20,208.56 268.60,202.92 277.00,221.76 285.40,264.12 293.80,268.38 302.20,266.25" fill="none" stroke="#6d6d6d" stroke-width="2.2" stroke-linejoin="round"/>
<polyline points="251.80,207.17 260.20,205.04 268.60,202.70 277.00,230.55 285.40,258.63 293.80,261.34 302.20,260.75" fill="none" stroke="#151515" stroke-width="2.2" stroke-linejoin="round"/>
<circle cx="251.80" cy="210.62" r="3.50" fill="#6d6d6d"/>
<circle cx="260.20" cy="208.56" r="3.50" fill="#6d6d6d"/>
<circle cx="268.60" cy="202.92" r="3.50" fill="#6d6d6d"/>
<circle cx="277.00" cy="221.76" r="3.50" fill="#6d6d6d"/>
<circle cx="285.40" cy="264.12" r="3.50" fill="#6d6d6d"/>
<circle cx="293.80" cy="268.38" r="3.50" fill="#6d6d6d"/>
<circle cx="302.20" cy="266.25" r="3.50" fill="#6d6d6d"/>
<circle cx="251.80" cy="207.17" r="3.50" fill="#151515"/>
<circle cx="260.20" cy="205.04" r="3.50" fill="#151515"/>
<circle cx="268.60" cy="202.70" r="3.50" fill="#151515"/>
<circle cx="277.00" cy="230.55" r="3.50" fill="#151515"/>
<circle cx="285.40" cy="258.63" r="3.50" fill="#151515"/>
<circle cx="293.80" cy="261.34" r="3.50" fill="#151515"/>
<circle cx="302.20" cy="260.75" r="3.50" fill="#151515"/>
<path d="M247.60 182.10H306.40" stroke="#222" stroke-width="1.2" fill="none"/>
<path d="M247.60 278.00H306.40" stroke="#000" stroke-width="1.4" fill="none"/>
<path d="M247.60 181.00V278.70" stroke="#000" stroke-width="1.70" fill="none"/>
<path d="M306.40 181.00V278.70" stroke="#000" stroke-width="1.70" fill="none"/>
<text x="345.95" y="172.80" font-size="13" text-anchor="middle" fill="#1a1a1a">D20</text>
<path d="M319.85 204.86V207.86M317.75 204.86H321.95M317.75 207.86H321.95" stroke="#6d6d6d" stroke-width="1.7" fill="none"/>
<path d="M328.25 199.37V202.37M326.15 199.37H330.35M326.15 202.37H330.35" stroke="#6d6d6d" stroke-width="1.7" fill="none"/>
<path d="M336.65 202.81V205.81M334.55 202.81H338.75M334.55 205.81H338.75" stroke="#6d6d6d" stroke-width="1.7" fill="none"/>
<path d="M345.05 218.13V221.13M342.95 218.13H347.15M342.95 221.13H347.15" stroke="#6d6d6d" stroke-width="1.7" fill="none"/>
<path d="M353.45 239.75V242.75M351.35 239.75H355.55M351.35 242.75H355.55" stroke="#6d6d6d" stroke-width="1.7" fill="none"/>
<path d="M361.85 248.04V251.04M359.75 248.04H363.95M359.75 251.04H363.95" stroke="#6d6d6d" stroke-width="1.7" fill="none"/>
<path d="M370.25 253.61V256.61M368.15 253.61H372.35M368.15 256.61H372.35" stroke="#6d6d6d" stroke-width="1.7" fill="none"/>
<path d="M319.85 204.94V207.94M317.75 204.94H321.95M317.75 207.94H321.95" stroke="#151515" stroke-width="1.7" fill="none"/>
<path d="M328.25 194.21V206.21M326.15 194.21H330.35M326.15 206.21H330.35" stroke="#151515" stroke-width="1.7" fill="none"/>
<path d="M336.65 206.33V209.33M334.55 206.33H338.75M334.55 209.33H338.75" stroke="#151515" stroke-width="1.7" fill="none"/>
<path d="M345.05 210.95V213.95M342.95 210.95H347.15M342.95 213.95H347.15" stroke="#151515" stroke-width="1.7" fill="none"/>
<path d="M353.45 229.93V232.93M351.35 229.93H355.55M351.35 232.93H355.55" stroke="#151515" stroke-width="1.7" fill="none"/>
<path d="M361.85 241.15V244.15M359.75 241.15H363.95M359.75 244.15H363.95" stroke="#151515" stroke-width="1.7" fill="none"/>
<path d="M370.25 245.91V248.91M368.15 245.91H372.35M368.15 248.91H372.35" stroke="#151515" stroke-width="1.7" fill="none"/>
<polyline points="319.85,206.36 328.25,200.87 336.65,204.31 345.05,219.63 353.45,241.25 361.85,249.54 370.25,255.11" fill="none" stroke="#6d6d6d" stroke-width="2.2" stroke-linejoin="round"/>
<polyline points="319.85,206.44 328.25,200.21 336.65,207.83 345.05,212.45 353.45,231.43 361.85,242.65 370.25,247.41" fill="none" stroke="#151515" stroke-width="2.2" stroke-linejoin="round"/>
<circle cx="319.85" cy="206.36" r="3.50" fill="#6d6d6d"/>
<circle cx="328.25" cy="200.87" r="3.50" fill="#6d6d6d"/>
<circle cx="336.65" cy="204.31" r="3.50" fill="#6d6d6d"/>
<circle cx="345.05" cy="219.63" r="3.50" fill="#6d6d6d"/>
<circle cx="353.45" cy="241.25" r="3.50" fill="#6d6d6d"/>
<circle cx="361.85" cy="249.54" r="3.50" fill="#6d6d6d"/>
<circle cx="370.25" cy="255.11" r="3.50" fill="#6d6d6d"/>
<circle cx="319.85" cy="206.44" r="3.50" fill="#151515"/>
<circle cx="328.25" cy="200.21" r="3.50" fill="#151515"/>
<circle cx="336.65" cy="207.83" r="3.50" fill="#151515"/>
<circle cx="345.05" cy="212.45" r="3.50" fill="#151515"/>
<circle cx="353.45" cy="231.43" r="3.50" fill="#151515"/>
<circle cx="361.85" cy="242.65" r="3.50" fill="#151515"/>
<circle cx="370.25" cy="247.41" r="3.50" fill="#151515"/>
<path d="M315.90 182.10H374.20" stroke="#222" stroke-width="1.2" fill="none"/>
<path d="M315.90 278.00H374.20" stroke="#000" stroke-width="1.4" fill="none"/>
<path d="M315.90 181.00V278.70" stroke="#000" stroke-width="1.30" fill="none"/>
<path d="M374.20 181.00V278.70" stroke="#000" stroke-width="1.30" fill="none"/>
<text x="413.85" y="172.80" font-size="13" text-anchor="middle" fill="#1a1a1a">D25</text>
<path d="M387.75 195.10V219.10M385.65 195.10H389.85M385.65 219.10H389.85" stroke="#6d6d6d" stroke-width="1.7" fill="none"/>
<path d="M396.15 194.42V200.42M394.05 194.42H398.25M394.05 200.42H398.25" stroke="#6d6d6d" stroke-width="1.7" fill="none"/>
<path d="M404.55 197.31V200.31M402.45 197.31H406.65M402.45 200.31H406.65" stroke="#6d6d6d" stroke-width="1.7" fill="none"/>
<path d="M412.95 227.95V230.95M410.85 227.95H415.05M410.85 230.95H415.05" stroke="#6d6d6d" stroke-width="1.7" fill="none"/>
<path d="M421.35 248.77V251.77M419.25 248.77H423.45M419.25 251.77H423.45" stroke="#6d6d6d" stroke-width="1.7" fill="none"/>
<path d="M429.75 250.16V253.16M427.65 250.16H431.85M427.65 253.16H431.85" stroke="#6d6d6d" stroke-width="1.7" fill="none"/>
<path d="M438.15 239.75V242.75M436.05 239.75H440.25M436.05 242.75H440.25" stroke="#6d6d6d" stroke-width="1.7" fill="none"/>
<path d="M387.75 205.89V208.89M385.65 205.89H389.85M385.65 208.89H389.85" stroke="#151515" stroke-width="1.7" fill="none"/>
<path d="M396.15 202.15V205.15M394.05 202.15H398.25M394.05 205.15H398.25" stroke="#151515" stroke-width="1.7" fill="none"/>
<path d="M404.55 207.72V210.72M402.45 207.72H406.65M402.45 210.72H406.65" stroke="#151515" stroke-width="1.7" fill="none"/>
<path d="M412.95 232.72V235.72M410.85 232.72H415.05M410.85 235.72H415.05" stroke="#151515" stroke-width="1.7" fill="none"/>
<path d="M421.35 245.91V248.91M419.25 245.91H423.45M419.25 248.91H423.45" stroke="#151515" stroke-width="1.7" fill="none"/>
<path d="M429.75 245.25V248.25M427.65 245.25H431.85M427.65 248.25H431.85" stroke="#151515" stroke-width="1.7" fill="none"/>
<path d="M438.15 234.18V237.18M436.05 234.18H440.25M436.05 237.18H440.25" stroke="#151515" stroke-width="1.7" fill="none"/>
<polyline points="387.75,207.10 396.15,197.42 404.55,198.81 412.95,229.45 421.35,250.27 429.75,251.66 438.15,241.25" fill="none" stroke="#6d6d6d" stroke-width="2.2" stroke-linejoin="round"/>
<polyline points="387.75,207.39 396.15,203.65 404.55,209.22 412.95,234.22 421.35,247.41 429.75,246.75 438.15,235.68" fill="none" stroke="#151515" stroke-width="2.2" stroke-linejoin="round"/>
<circle cx="387.75" cy="207.10" r="3.50" fill="#6d6d6d"/>
<circle cx="396.15" cy="197.42" r="3.50" fill="#6d6d6d"/>
<circle cx="404.55" cy="198.81" r="3.50" fill="#6d6d6d"/>
<circle cx="412.95" cy="229.45" r="3.50" fill="#6d6d6d"/>
<circle cx="421.35" cy="250.27" r="3.50" fill="#6d6d6d"/>
<circle cx="429.75" cy="251.66" r="3.50" fill="#6d6d6d"/>
<circle cx="438.15" cy="241.25" r="3.50" fill="#6d6d6d"/>
<circle cx="387.75" cy="207.39" r="3.50" fill="#151515"/>
<circle cx="396.15" cy="203.65" r="3.50" fill="#151515"/>
<circle cx="404.55" cy="209.22" r="3.50" fill="#151515"/>
<circle cx="412.95" cy="234.22" r="3.50" fill="#151515"/>
<circle cx="421.35" cy="247.41" r="3.50" fill="#151515"/>
<circle cx="429.75" cy="246.75" r="3.50" fill="#151515"/>
<circle cx="438.15" cy="235.68" r="3.50" fill="#151515"/>
<path d="M384.00 182.10H441.90" stroke="#222" stroke-width="1.2" fill="none"/>
<path d="M384.00 278.00H441.90" stroke="#000" stroke-width="1.4" fill="none"/>
<path d="M384.00 181.00V278.70" stroke="#000" stroke-width="1.30" fill="none"/>
<path d="M441.90 181.00V278.70" stroke="#000" stroke-width="1.50" fill="none"/>
<text x="481.75" y="172.80" font-size="13" text-anchor="middle" fill="#1a1a1a">D28</text>
<path d="M455.65 201.83V213.83M453.55 201.83H457.75M453.55 213.83H457.75" stroke="#6d6d6d" stroke-width="1.7" fill="none"/>
<path d="M464.05 196.07V199.07M461.95 196.07H466.15M461.95 199.07H466.15" stroke="#6d6d6d" stroke-width="1.7" fill="none"/>
<path d="M472.45 201.42V204.42M470.35 201.42H474.55M470.35 204.42H474.55" stroke="#6d6d6d" stroke-width="1.7" fill="none"/>
<path d="M480.85 210.73V213.73M478.75 210.73H482.95M478.75 213.73H482.95" stroke="#6d6d6d" stroke-width="1.7" fill="none"/>
<path d="M489.25 241.81V244.81M487.15 241.81H491.35M487.15 244.81H491.35" stroke="#6d6d6d" stroke-width="1.7" fill="none"/>
<path d="M497.65 252.95V255.95M495.55 252.95H499.75M495.55 255.95H499.75" stroke="#6d6d6d" stroke-width="1.7" fill="none"/>
<path d="M506.05 245.25V248.25M503.95 245.25H508.15M503.95 248.25H508.15" stroke="#6d6d6d" stroke-width="1.7" fill="none"/>
<path d="M455.65 196.44V205.44M453.55 196.44H457.75M453.55 205.44H457.75" stroke="#151515" stroke-width="1.7" fill="none"/>
<path d="M464.05 193.91V205.91M461.95 193.91H466.15M461.95 205.91H466.15" stroke="#151515" stroke-width="1.7" fill="none"/>
<path d="M472.45 197.31V200.31M470.35 197.31H474.55M470.35 200.31H474.55" stroke="#151515" stroke-width="1.7" fill="none"/>
<path d="M480.85 210.51V213.51M478.75 210.51H482.95M478.75 213.51H482.95" stroke="#151515" stroke-width="1.7" fill="none"/>
<path d="M489.25 239.75V242.75M487.15 239.75H491.35M487.15 242.75H491.35" stroke="#151515" stroke-width="1.7" fill="none"/>
<path d="M497.65 241.81V244.81M495.55 241.81H499.75M495.55 244.81H499.75" stroke="#151515" stroke-width="1.7" fill="none"/>
<path d="M506.05 239.75V242.75M503.95 239.75H508.15M503.95 242.75H508.15" stroke="#151515" stroke-width="1.7" fill="none"/>
<polyline points="455.65,207.83 464.05,197.57 472.45,202.92 480.85,212.23 489.25,243.31 497.65,254.45 506.05,246.75" fill="none" stroke="#6d6d6d" stroke-width="2.2" stroke-linejoin="round"/>
<polyline points="455.65,200.94 464.05,199.91 472.45,198.81 480.85,212.01 489.25,241.25 497.65,243.31 506.05,241.25" fill="none" stroke="#151515" stroke-width="2.2" stroke-linejoin="round"/>
<circle cx="455.65" cy="207.83" r="3.50" fill="#6d6d6d"/>
<circle cx="464.05" cy="197.57" r="3.50" fill="#6d6d6d"/>
<circle cx="472.45" cy="202.92" r="3.50" fill="#6d6d6d"/>
<circle cx="480.85" cy="212.23" r="3.50" fill="#6d6d6d"/>
<circle cx="489.25" cy="243.31" r="3.50" fill="#6d6d6d"/>
<circle cx="497.65" cy="254.45" r="3.50" fill="#6d6d6d"/>
<circle cx="506.05" cy="246.75" r="3.50" fill="#6d6d6d"/>
<circle cx="455.65" cy="200.94" r="3.50" fill="#151515"/>
<circle cx="464.05" cy="199.91" r="3.50" fill="#151515"/>
<circle cx="472.45" cy="198.81" r="3.50" fill="#151515"/>
<circle cx="480.85" cy="212.01" r="3.50" fill="#151515"/>
<circle cx="489.25" cy="241.25" r="3.50" fill="#151515"/>
<circle cx="497.65" cy="243.31" r="3.50" fill="#151515"/>
<circle cx="506.05" cy="241.25" r="3.50" fill="#151515"/>
<path d="M451.20 182.10H510.50" stroke="#222" stroke-width="1.2" fill="none"/>
<path d="M451.20 278.00H510.50" stroke="#000" stroke-width="1.4" fill="none"/>
<path d="M451.20 181.00V278.70" stroke="#000" stroke-width="2.20" fill="none"/>
<path d="M510.50 181.00V278.70" stroke="#000" stroke-width="2.20" fill="none"/>
<text x="549.25" y="172.80" font-size="13" text-anchor="middle" fill="#1a1a1a">HT144</text>
<path d="M523.15 204.94V207.94M521.05 204.94H525.25M521.05 207.94H525.25" stroke="#6d6d6d" stroke-width="1.7" fill="none"/>
<path d="M531.55 201.42V204.42M529.45 201.42H533.65M529.45 204.42H533.65" stroke="#6d6d6d" stroke-width="1.7" fill="none"/>
<path d="M539.95 204.94V207.94M537.85 204.94H542.05M537.85 207.94H542.05" stroke="#6d6d6d" stroke-width="1.7" fill="none"/>
<path d="M548.35 228.61V231.61M546.25 228.61H550.45M546.25 231.61H550.45" stroke="#6d6d6d" stroke-width="1.7" fill="none"/>
<path d="M556.75 260.57V263.57M554.65 260.57H558.85M554.65 263.57H558.85" stroke="#6d6d6d" stroke-width="1.7" fill="none"/>
<path d="M565.15 264.02V267.02M563.05 264.02H567.25M563.05 267.02H567.25" stroke="#6d6d6d" stroke-width="1.7" fill="none"/>
<path d="M573.55 258.34V264.34M571.45 258.34H575.65M571.45 264.34H575.65" stroke="#6d6d6d" stroke-width="1.7" fill="none"/>
<path d="M523.15 200.76V203.76M521.05 200.76H525.25M521.05 203.76H525.25" stroke="#151515" stroke-width="1.7" fill="none"/>
<path d="M531.55 201.42V204.42M529.45 201.42H533.65M529.45 204.42H533.65" stroke="#151515" stroke-width="1.7" fill="none"/>
<path d="M539.95 195.92V198.92M537.85 195.92H542.05M537.85 198.92H542.05" stroke="#151515" stroke-width="1.7" fill="none"/>
<path d="M548.35 220.26V223.26M546.25 220.26H550.45M546.25 223.26H550.45" stroke="#151515" stroke-width="1.7" fill="none"/>
<path d="M556.75 251.56V254.56M554.65 251.56H558.85M554.65 254.56H558.85" stroke="#151515" stroke-width="1.7" fill="none"/>
<path d="M565.15 255.07V258.07M563.05 255.07H567.25M563.05 258.07H567.25" stroke="#151515" stroke-width="1.7" fill="none"/>
<path d="M573.55 250.82V253.82M571.45 250.82H575.65M571.45 253.82H575.65" stroke="#151515" stroke-width="1.7" fill="none"/>
<polyline points="523.15,206.44 531.55,202.92 539.95,206.44 548.35,230.11 556.75,262.07 565.15,265.52 573.55,261.34" fill="none" stroke="#6d6d6d" stroke-width="2.2" stroke-linejoin="round"/>
<polyline points="523.15,202.26 531.55,202.92 539.95,197.42 548.35,221.76 556.75,253.06 565.15,256.57 573.55,252.32" fill="none" stroke="#151515" stroke-width="2.2" stroke-linejoin="round"/>
<circle cx="523.15" cy="206.44" r="3.50" fill="#6d6d6d"/>
<circle cx="531.55" cy="202.92" r="3.50" fill="#6d6d6d"/>
<circle cx="539.95" cy="206.44" r="3.50" fill="#6d6d6d"/>
<circle cx="548.35" cy="230.11" r="3.50" fill="#6d6d6d"/>
<circle cx="556.75" cy="262.07" r="3.50" fill="#6d6d6d"/>
<circle cx="565.15" cy="265.52" r="3.50" fill="#6d6d6d"/>
<circle cx="573.55" cy="261.34" r="3.50" fill="#6d6d6d"/>
<circle cx="523.15" cy="202.26" r="3.50" fill="#151515"/>
<circle cx="531.55" cy="202.92" r="3.50" fill="#151515"/>
<circle cx="539.95" cy="197.42" r="3.50" fill="#151515"/>
<circle cx="548.35" cy="221.76" r="3.50" fill="#151515"/>
<circle cx="556.75" cy="253.06" r="3.50" fill="#151515"/>
<circle cx="565.15" cy="256.57" r="3.50" fill="#151515"/>
<circle cx="573.55" cy="252.32" r="3.50" fill="#151515"/>
<path d="M519.40 182.10H577.30" stroke="#222" stroke-width="1.2" fill="none"/>
<path d="M519.40 278.00H577.30" stroke="#000" stroke-width="1.4" fill="none"/>
<path d="M519.40 181.00V278.70" stroke="#000" stroke-width="1.40" fill="none"/>
<path d="M577.30 181.00V278.70" stroke="#000" stroke-width="1.40" fill="none"/>
<text x="142.40" y="306.00" font-size="13" text-anchor="middle" fill="#1a1a1a">MM329</text>
<path d="M116.30 321.15V331.15M114.20 321.15H118.40M114.20 331.15H118.40" stroke="#6d6d6d" stroke-width="1.7" fill="none"/>
<path d="M124.70 330.29V333.29M122.60 330.29H126.80M122.60 333.29H126.80" stroke="#6d6d6d" stroke-width="1.7" fill="none"/>
<path d="M133.10 335.79V338.79M131.00 335.79H135.20M131.00 338.79H135.20" stroke="#6d6d6d" stroke-width="1.7" fill="none"/>
<path d="M141.50 367.82V370.82M139.40 367.82H143.60M139.40 370.82H143.60" stroke="#6d6d6d" stroke-width="1.7" fill="none"/>
<path d="M149.90 383.80V386.80M147.80 383.80H152.00M147.80 386.80H152.00" stroke="#6d6d6d" stroke-width="1.7" fill="none"/>
<path d="M158.30 384.46V387.46M156.20 384.46H160.40M156.20 387.46H160.40" stroke="#6d6d6d" stroke-width="1.7" fill="none"/>
<path d="M166.70 381.02V384.02M164.60 381.02H168.80M164.60 384.02H168.80" stroke="#6d6d6d" stroke-width="1.7" fill="none"/>
<path d="M116.30 338.58V341.58M114.20 338.58H118.40M114.20 341.58H118.40" stroke="#151515" stroke-width="1.7" fill="none"/>
<path d="M124.70 327.17V343.17M122.60 327.17H126.80M122.60 343.17H126.80" stroke="#151515" stroke-width="1.7" fill="none"/>
<path d="M133.10 338.58V341.58M131.00 338.58H135.20M131.00 341.58H135.20" stroke="#151515" stroke-width="1.7" fill="none"/>
<path d="M141.50 367.82V370.82M139.40 367.82H143.60M139.40 370.82H143.60" stroke="#151515" stroke-width="1.7" fill="none"/>
<path d="M149.90 385.93V388.93M147.80 385.93H152.00M147.80 388.93H152.00" stroke="#151515" stroke-width="1.7" fill="none"/>
<path d="M158.30 385.93V388.93M156.20 385.93H160.40M156.20 388.93H160.40" stroke="#151515" stroke-width="1.7" fill="none"/>
<path d="M166.70 371.63V379.63M164.60 371.63H168.80M164.60 379.63H168.80" stroke="#151515" stroke-width="1.7" fill="none"/>
<polyline points="116.30,326.15 124.70,331.79 133.10,337.29 141.50,369.32 149.90,385.30 158.30,385.96 166.70,382.52" fill="none" stroke="#6d6d6d" stroke-width="2.2" stroke-linejoin="round"/>
<polyline points="116.30,340.08 124.70,335.17 133.10,340.08 141.50,369.32 149.90,387.43 158.30,387.43 166.70,375.63" fill="none" stroke="#151515" stroke-width="2.2" stroke-linejoin="round"/>
<circle cx="116.30" cy="326.15" r="3.50" fill="#6d6d6d"/>
<circle cx="124.70" cy="331.79" r="3.50" fill="#6d6d6d"/>
<circle cx="133.10" cy="337.29" r="3.50" fill="#6d6d6d"/>
<circle cx="141.50" cy="369.32" r="3.50" fill="#6d6d6d"/>
<circle cx="149.90" cy="385.30" r="3.50" fill="#6d6d6d"/>
<circle cx="158.30" cy="385.96" r="3.50" fill="#6d6d6d"/>
<circle cx="166.70" cy="382.52" r="3.50" fill="#6d6d6d"/>
<circle cx="116.30" cy="340.08" r="3.50" fill="#151515"/>
<circle cx="124.70" cy="335.17" r="3.50" fill="#151515"/>
<circle cx="133.10" cy="340.08" r="3.50" fill="#151515"/>
<circle cx="141.50" cy="369.32" r="3.50" fill="#151515"/>
<circle cx="149.90" cy="387.43" r="3.50" fill="#151515"/>
<circle cx="158.30" cy="387.43" r="3.50" fill="#151515"/>
<circle cx="166.70" cy="375.63" r="3.50" fill="#151515"/>
<path d="M112.00 315.30H171.00" stroke="#222" stroke-width="1.2" fill="none"/>
<path d="M112.00 411.20H171.00" stroke="#000" stroke-width="1.4" fill="none"/>
<path d="M112.00 314.20V411.90" stroke="#000" stroke-width="1.70" fill="none"/>
<path d="M171.00 314.20V411.90" stroke="#000" stroke-width="1.70" fill="none"/>
<line x1="108.00" y1="407.00" x2="112.00" y2="407.00" stroke="#000" stroke-width="1.4"/>
<text x="105.6" y="413.20" font-size="16" text-anchor="end" fill="#1a1a1a">0</text>
<line x1="108.00" y1="388.68" x2="112.00" y2="388.68" stroke="#000" stroke-width="1.4"/>
<text x="105.6" y="394.88" font-size="16" text-anchor="end" fill="#1a1a1a">25</text>
<line x1="108.00" y1="370.35" x2="112.00" y2="370.35" stroke="#000" stroke-width="1.4"/>
<text x="105.6" y="376.55" font-size="16" text-anchor="end" fill="#1a1a1a">50</text>
<line x1="108.00" y1="352.02" x2="112.00" y2="352.02" stroke="#000" stroke-width="1.4"/>
<text x="105.6" y="358.22" font-size="16" text-anchor="end" fill="#1a1a1a">75</text>
<line x1="108.00" y1="333.70" x2="112.00" y2="333.70" stroke="#000" stroke-width="1.4"/>
<text x="105.6" y="339.90" font-size="16" text-anchor="end" fill="#1a1a1a">100</text>
<line x1="108.00" y1="315.38" x2="112.00" y2="315.38" stroke="#000" stroke-width="1.4"/>
<text x="105.6" y="321.57" font-size="16" text-anchor="end" fill="#1a1a1a">125</text>
<line x1="118.80" y1="411.20" x2="118.80" y2="415.70" stroke="#000" stroke-width="1.4"/>
<text x="120.00" y="432.2" font-size="16" text-anchor="middle" fill="#1a1a1a">1</text>
<line x1="136.20" y1="411.20" x2="136.20" y2="415.70" stroke="#000" stroke-width="1.4"/>
<text x="137.40" y="432.2" font-size="16" text-anchor="middle" fill="#1a1a1a">2</text>
<line x1="153.60" y1="411.20" x2="153.60" y2="415.70" stroke="#000" stroke-width="1.4"/>
<text x="154.80" y="432.2" font-size="16" text-anchor="middle" fill="#1a1a1a">3</text>
<text x="210.50" y="306.00" font-size="13" text-anchor="middle" fill="#1a1a1a">MM370</text>
<path d="M184.40 340.70V343.70M182.30 340.70H186.50M182.30 343.70H186.50" stroke="#6d6d6d" stroke-width="1.7" fill="none"/>
<path d="M192.80 332.68V344.68M190.70 332.68H194.90M190.70 344.68H194.90" stroke="#6d6d6d" stroke-width="1.7" fill="none"/>
<path d="M201.20 329.56V332.56M199.10 329.56H203.30M199.10 332.56H203.30" stroke="#6d6d6d" stroke-width="1.7" fill="none"/>
<path d="M209.60 347.61V357.61M207.50 347.61H211.70M207.50 357.61H211.70" stroke="#6d6d6d" stroke-width="1.7" fill="none"/>
<path d="M218.00 379.63V382.63M215.90 379.63H220.10M215.90 382.63H220.10" stroke="#6d6d6d" stroke-width="1.7" fill="none"/>
<path d="M226.40 374.79V377.79M224.30 374.79H228.50M224.30 377.79H228.50" stroke="#6d6d6d" stroke-width="1.7" fill="none"/>
<path d="M234.80 381.02V384.02M232.70 381.02H236.90M232.70 384.02H236.90" stroke="#6d6d6d" stroke-width="1.7" fill="none"/>
<path d="M184.40 336.45V339.45M182.30 336.45H186.50M182.30 339.45H186.50" stroke="#151515" stroke-width="1.7" fill="none"/>
<path d="M192.80 324.01V334.01M190.70 324.01H194.90M190.70 334.01H194.90" stroke="#151515" stroke-width="1.7" fill="none"/>
<path d="M201.20 331.61V334.61M199.10 331.61H203.30M199.10 334.61H203.30" stroke="#151515" stroke-width="1.7" fill="none"/>
<path d="M209.60 356.02V359.02M207.50 356.02H211.70M207.50 359.02H211.70" stroke="#151515" stroke-width="1.7" fill="none"/>
<path d="M218.00 390.11V393.11M215.90 390.11H220.10M215.90 393.11H220.10" stroke="#151515" stroke-width="1.7" fill="none"/>
<path d="M226.40 393.48V396.48M224.30 393.48H228.50M224.30 396.48H228.50" stroke="#151515" stroke-width="1.7" fill="none"/>
<path d="M234.80 392.60V395.60M232.70 392.60H236.90M232.70 395.60H236.90" stroke="#151515" stroke-width="1.7" fill="none"/>
<polyline points="184.40,342.20 192.80,338.68 201.20,331.06 209.60,352.61 218.00,381.13 226.40,376.29 234.80,382.52" fill="none" stroke="#6d6d6d" stroke-width="2.2" stroke-linejoin="round"/>
<polyline points="184.40,337.95 192.80,329.01 201.20,333.11 209.60,357.52 218.00,391.61 226.40,394.98 234.80,394.10" fill="none" stroke="#151515" stroke-width="2.2" stroke-linejoin="round"/>
<circle cx="184.40" cy="342.20" r="3.50" fill="#6d6d6d"/>
<circle cx="192.80" cy="338.68" r="3.50" fill="#6d6d6d"/>
<circle cx="201.20" cy="331.06" r="3.50" fill="#6d6d6d"/>
<circle cx="209.60" cy="352.61" r="3.50" fill="#6d6d6d"/>
<circle cx="218.00" cy="381.13" r="3.50" fill="#6d6d6d"/>
<circle cx="226.40" cy="376.29" r="3.50" fill="#6d6d6d"/>
<circle cx="234.80" cy="382.52" r="3.50" fill="#6d6d6d"/>
<circle cx="184.40" cy="337.95" r="3.50" fill="#151515"/>
<circle cx="192.80" cy="329.01" r="3.50" fill="#151515"/>
<circle cx="201.20" cy="333.11" r="3.50" fill="#151515"/>
<circle cx="209.60" cy="357.52" r="3.50" fill="#151515"/>
<circle cx="218.00" cy="391.61" r="3.50" fill="#151515"/>
<circle cx="226.40" cy="394.98" r="3.50" fill="#151515"/>
<circle cx="234.80" cy="394.10" r="3.50" fill="#151515"/>
<path d="M180.20 315.30H239.00" stroke="#222" stroke-width="1.2" fill="none"/>
<path d="M180.20 411.20H239.00" stroke="#000" stroke-width="1.4" fill="none"/>
<path d="M180.20 314.20V411.90" stroke="#000" stroke-width="1.70" fill="none"/>
<path d="M239.00 314.20V411.90" stroke="#000" stroke-width="1.70" fill="none"/>
<line x1="187.00" y1="411.20" x2="187.00" y2="415.70" stroke="#000" stroke-width="1.4"/>
<text x="188.20" y="432.2" font-size="16" text-anchor="middle" fill="#1a1a1a">1</text>
<line x1="204.40" y1="411.20" x2="204.40" y2="415.70" stroke="#000" stroke-width="1.4"/>
<text x="205.60" y="432.2" font-size="16" text-anchor="middle" fill="#1a1a1a">2</text>
<line x1="221.80" y1="411.20" x2="221.80" y2="415.70" stroke="#000" stroke-width="1.4"/>
<text x="223.00" y="432.2" font-size="16" text-anchor="middle" fill="#1a1a1a">3</text>
<text x="277.90" y="306.00" font-size="13" text-anchor="middle" fill="#1a1a1a">MM415</text>
<path d="M251.80 332.42V335.42M249.70 332.42H253.90M249.70 335.42H253.90" stroke="#6d6d6d" stroke-width="1.7" fill="none"/>
<path d="M260.20 332.42V335.42M258.10 332.42H262.30M258.10 335.42H262.30" stroke="#6d6d6d" stroke-width="1.7" fill="none"/>
<path d="M268.60 334.40V337.40M266.50 334.40H270.70M266.50 337.40H270.70" stroke="#6d6d6d" stroke-width="1.7" fill="none"/>
<path d="M277.00 361.89V364.89M274.90 361.89H279.10M274.90 364.89H279.10" stroke="#6d6d6d" stroke-width="1.7" fill="none"/>
<path d="M285.40 380.58V383.58M283.30 380.58H287.50M283.30 383.58H287.50" stroke="#6d6d6d" stroke-width="1.7" fill="none"/>
<path d="M293.80 385.42V388.42M291.70 385.42H295.90M291.70 388.42H295.90" stroke="#6d6d6d" stroke-width="1.7" fill="none"/>
<path d="M302.20 384.98V387.98M300.10 384.98H304.30M300.10 387.98H304.30" stroke="#6d6d6d" stroke-width="1.7" fill="none"/>
<path d="M251.80 331.95V343.95M249.70 331.95H253.90M249.70 343.95H253.90" stroke="#151515" stroke-width="1.7" fill="none"/>
<path d="M260.20 335.79V338.79M258.10 335.79H262.30M258.10 338.79H262.30" stroke="#151515" stroke-width="1.7" fill="none"/>
<path d="M268.60 331.61V334.61M266.50 331.61H270.70M266.50 334.61H270.70" stroke="#151515" stroke-width="1.7" fill="none"/>
<path d="M277.00 362.91V365.91M274.90 362.91H279.10M274.90 365.91H279.10" stroke="#151515" stroke-width="1.7" fill="none"/>
<path d="M285.40 381.02V384.02M283.30 381.02H287.50M283.30 384.02H287.50" stroke="#151515" stroke-width="1.7" fill="none"/>
<path d="M293.80 385.93V388.93M291.70 385.93H295.90M291.70 388.93H295.90" stroke="#151515" stroke-width="1.7" fill="none"/>
<path d="M302.20 385.93V388.93M300.10 385.93H304.30M300.10 388.93H304.30" stroke="#151515" stroke-width="1.7" fill="none"/>
<polyline points="251.80,333.92 260.20,333.92 268.60,335.90 277.00,363.39 285.40,382.08 293.80,386.92 302.20,386.48" fill="none" stroke="#6d6d6d" stroke-width="2.2" stroke-linejoin="round"/>
<polyline points="251.80,337.95 260.20,337.29 268.60,333.11 277.00,364.41 285.40,382.52 293.80,387.43 302.20,387.43" fill="none" stroke="#151515" stroke-width="2.2" stroke-linejoin="round"/>
<circle cx="251.80" cy="333.92" r="3.50" fill="#6d6d6d"/>
<circle cx="260.20" cy="333.92" r="3.50" fill="#6d6d6d"/>
<circle cx="268.60" cy="335.90" r="3.50" fill="#6d6d6d"/>
<circle cx="277.00" cy="363.39" r="3.50" fill="#6d6d6d"/>
<circle cx="285.40" cy="382.08" r="3.50" fill="#6d6d6d"/>
<circle cx="293.80" cy="386.92" r="3.50" fill="#6d6d6d"/>
<circle cx="302.20" cy="386.48" r="3.50" fill="#6d6d6d"/>
<circle cx="251.80" cy="337.95" r="3.50" fill="#151515"/>
<circle cx="260.20" cy="337.29" r="3.50" fill="#151515"/>
<circle cx="268.60" cy="333.11" r="3.50" fill="#151515"/>
<circle cx="277.00" cy="364.41" r="3.50" fill="#151515"/>
<circle cx="285.40" cy="382.52" r="3.50" fill="#151515"/>
<circle cx="293.80" cy="387.43" r="3.50" fill="#151515"/>
<circle cx="302.20" cy="387.43" r="3.50" fill="#151515"/>
<path d="M247.60 315.30H306.40" stroke="#222" stroke-width="1.2" fill="none"/>
<path d="M247.60 411.20H306.40" stroke="#000" stroke-width="1.4" fill="none"/>
<path d="M247.60 314.20V411.90" stroke="#000" stroke-width="1.70" fill="none"/>
<path d="M306.40 314.20V411.90" stroke="#000" stroke-width="1.70" fill="none"/>
<line x1="254.40" y1="411.20" x2="254.40" y2="415.70" stroke="#000" stroke-width="1.4"/>
<text x="255.60" y="432.2" font-size="16" text-anchor="middle" fill="#1a1a1a">1</text>
<line x1="271.80" y1="411.20" x2="271.80" y2="415.70" stroke="#000" stroke-width="1.4"/>
<text x="273.00" y="432.2" font-size="16" text-anchor="middle" fill="#1a1a1a">2</text>
<line x1="289.20" y1="411.20" x2="289.20" y2="415.70" stroke="#000" stroke-width="1.4"/>
<text x="290.40" y="432.2" font-size="16" text-anchor="middle" fill="#1a1a1a">3</text>
<text x="345.95" y="306.00" font-size="13" text-anchor="middle" fill="#1a1a1a">MM603</text>
<path d="M319.85 338.80V341.80M317.75 338.80H321.95M317.75 341.80H321.95" stroke="#6d6d6d" stroke-width="1.7" fill="none"/>
<path d="M328.25 335.43V338.43M326.15 335.43H330.35M326.15 338.43H330.35" stroke="#6d6d6d" stroke-width="1.7" fill="none"/>
<path d="M336.65 338.06V341.06M334.55 338.06H338.75M334.55 341.06H338.75" stroke="#6d6d6d" stroke-width="1.7" fill="none"/>
<path d="M345.05 349.72V352.72M342.95 349.72H347.15M342.95 352.72H347.15" stroke="#6d6d6d" stroke-width="1.7" fill="none"/>
<path d="M353.45 378.16V381.16M351.35 378.16H355.55M351.35 381.16H355.55" stroke="#6d6d6d" stroke-width="1.7" fill="none"/>
<path d="M361.85 377.65V380.65M359.75 377.65H363.95M359.75 380.65H363.95" stroke="#6d6d6d" stroke-width="1.7" fill="none"/>
<path d="M370.25 374.79V377.79M368.15 374.79H372.35M368.15 377.79H372.35" stroke="#6d6d6d" stroke-width="1.7" fill="none"/>
<path d="M319.85 335.81V345.81M317.75 335.81H321.95M317.75 345.81H321.95" stroke="#151515" stroke-width="1.7" fill="none"/>
<path d="M328.25 336.45V339.45M326.15 336.45H330.35M326.15 339.45H330.35" stroke="#151515" stroke-width="1.7" fill="none"/>
<path d="M336.65 338.58V341.58M334.55 338.58H338.75M334.55 341.58H338.75" stroke="#151515" stroke-width="1.7" fill="none"/>
<path d="M345.05 353.90V356.90M342.95 353.90H347.15M342.95 356.90H347.15" stroke="#151515" stroke-width="1.7" fill="none"/>
<path d="M353.45 372.66V375.66M351.35 372.66H355.55M351.35 375.66H355.55" stroke="#151515" stroke-width="1.7" fill="none"/>
<path d="M361.85 371.27V374.27M359.75 371.27H363.95M359.75 374.27H363.95" stroke="#151515" stroke-width="1.7" fill="none"/>
<path d="M370.25 370.61V373.61M368.15 370.61H372.35M368.15 373.61H372.35" stroke="#151515" stroke-width="1.7" fill="none"/>
<polyline points="319.85,340.30 328.25,336.93 336.65,339.56 345.05,351.22 353.45,379.66 361.85,379.15 370.25,376.29" fill="none" stroke="#6d6d6d" stroke-width="2.2" stroke-linejoin="round"/>
<polyline points="319.85,340.81 328.25,337.95 336.65,340.08 345.05,355.40 353.45,374.16 361.85,372.77 370.25,372.11" fill="none" stroke="#151515" stroke-width="2.2" stroke-linejoin="round"/>
<circle cx="319.85" cy="340.30" r="3.50" fill="#6d6d6d"/>
<circle cx="328.25" cy="336.93" r="3.50" fill="#6d6d6d"/>
<circle cx="336.65" cy="339.56" r="3.50" fill="#6d6d6d"/>
<circle cx="345.05" cy="351.22" r="3.50" fill="#6d6d6d"/>
<circle cx="353.45" cy="379.66" r="3.50" fill="#6d6d6d"/>
<circle cx="361.85" cy="379.15" r="3.50" fill="#6d6d6d"/>
<circle cx="370.25" cy="376.29" r="3.50" fill="#6d6d6d"/>
<circle cx="319.85" cy="340.81" r="3.50" fill="#151515"/>
<circle cx="328.25" cy="337.95" r="3.50" fill="#151515"/>
<circle cx="336.65" cy="340.08" r="3.50" fill="#151515"/>
<circle cx="345.05" cy="355.40" r="3.50" fill="#151515"/>
<circle cx="353.45" cy="374.16" r="3.50" fill="#151515"/>
<circle cx="361.85" cy="372.77" r="3.50" fill="#151515"/>
<circle cx="370.25" cy="372.11" r="3.50" fill="#151515"/>
<path d="M315.90 315.30H374.20" stroke="#222" stroke-width="1.2" fill="none"/>
<path d="M315.90 411.20H374.20" stroke="#000" stroke-width="1.4" fill="none"/>
<path d="M315.90 314.20V411.90" stroke="#000" stroke-width="1.30" fill="none"/>
<path d="M374.20 314.20V411.90" stroke="#000" stroke-width="1.30" fill="none"/>
<line x1="322.70" y1="411.20" x2="322.70" y2="415.70" stroke="#000" stroke-width="1.4"/>
<text x="323.90" y="432.2" font-size="16" text-anchor="middle" fill="#1a1a1a">1</text>
<line x1="340.10" y1="411.20" x2="340.10" y2="415.70" stroke="#000" stroke-width="1.4"/>
<text x="341.30" y="432.2" font-size="16" text-anchor="middle" fill="#1a1a1a">2</text>
<line x1="357.50" y1="411.20" x2="357.50" y2="415.70" stroke="#000" stroke-width="1.4"/>
<text x="358.70" y="432.2" font-size="16" text-anchor="middle" fill="#1a1a1a">3</text>
<text x="413.85" y="306.00" font-size="13" text-anchor="middle" fill="#1a1a1a">MM96L</text>
<path d="M387.75 321.15V331.15M385.65 321.15H389.85M385.65 331.15H389.85" stroke="#6d6d6d" stroke-width="1.7" fill="none"/>
<path d="M396.15 327.92V339.92M394.05 327.92H398.25M394.05 339.92H398.25" stroke="#6d6d6d" stroke-width="1.7" fill="none"/>
<path d="M404.55 332.93V335.93M402.45 332.93H406.65M402.45 335.93H406.65" stroke="#6d6d6d" stroke-width="1.7" fill="none"/>
<path d="M412.95 356.68V359.68M410.85 356.68H415.05M410.85 359.68H415.05" stroke="#6d6d6d" stroke-width="1.7" fill="none"/>
<path d="M421.35 385.93V388.93M419.25 385.93H423.45M419.25 388.93H423.45" stroke="#6d6d6d" stroke-width="1.7" fill="none"/>
<path d="M429.75 392.16V395.16M427.65 392.16H431.85M427.65 395.16H431.85" stroke="#6d6d6d" stroke-width="1.7" fill="none"/>
<path d="M438.15 394.87V397.87M436.05 394.87H440.25M436.05 397.87H440.25" stroke="#6d6d6d" stroke-width="1.7" fill="none"/>
<path d="M387.75 330.95V333.95M385.65 330.95H389.85M385.65 333.95H389.85" stroke="#151515" stroke-width="1.7" fill="none"/>
<path d="M396.15 328.17V331.17M394.05 328.17H398.25M394.05 331.17H398.25" stroke="#151515" stroke-width="1.7" fill="none"/>
<path d="M404.55 332.42V335.42M402.45 332.42H406.65M402.45 335.42H406.65" stroke="#151515" stroke-width="1.7" fill="none"/>
<path d="M412.95 352.50V355.50M410.85 352.50H415.05M410.85 355.50H415.05" stroke="#151515" stroke-width="1.7" fill="none"/>
<path d="M421.35 377.57V380.57M419.25 377.57H423.45M419.25 380.57H423.45" stroke="#151515" stroke-width="1.7" fill="none"/>
<path d="M429.75 390.11V393.11M427.65 390.11H431.85M427.65 393.11H431.85" stroke="#151515" stroke-width="1.7" fill="none"/>
<path d="M438.15 392.16V395.16M436.05 392.16H440.25M436.05 395.16H440.25" stroke="#151515" stroke-width="1.7" fill="none"/>
<polyline points="387.75,326.15 396.15,333.92 404.55,334.43 412.95,358.18 421.35,387.43 429.75,393.66 438.15,396.37" fill="none" stroke="#6d6d6d" stroke-width="2.2" stroke-linejoin="round"/>
<polyline points="387.75,332.45 396.15,329.67 404.55,333.92 412.95,354.00 421.35,379.07 429.75,391.61 438.15,393.66" fill="none" stroke="#151515" stroke-width="2.2" stroke-linejoin="round"/>
<circle cx="387.75" cy="326.15" r="3.50" fill="#6d6d6d"/>
<circle cx="396.15" cy="333.92" r="3.50" fill="#6d6d6d"/>
<circle cx="404.55" cy="334.43" r="3.50" fill="#6d6d6d"/>
<circle cx="412.95" cy="358.18" r="3.50" fill="#6d6d6d"/>
<circle cx="421.35" cy="387.43" r="3.50" fill="#6d6d6d"/>
<circle cx="429.75" cy="393.66" r="3.50" fill="#6d6d6d"/>
<circle cx="438.15" cy="396.37" r="3.50" fill="#6d6d6d"/>
<circle cx="387.75" cy="332.45" r="3.50" fill="#151515"/>
<circle cx="396.15" cy="329.67" r="3.50" fill="#151515"/>
<circle cx="404.55" cy="333.92" r="3.50" fill="#151515"/>
<circle cx="412.95" cy="354.00" r="3.50" fill="#151515"/>
<circle cx="421.35" cy="379.07" r="3.50" fill="#151515"/>
<circle cx="429.75" cy="391.61" r="3.50" fill="#151515"/>
<circle cx="438.15" cy="393.66" r="3.50" fill="#151515"/>
<path d="M384.00 315.30H441.90" stroke="#222" stroke-width="1.2" fill="none"/>
<path d="M384.00 411.20H441.90" stroke="#000" stroke-width="1.4" fill="none"/>
<path d="M384.00 314.20V411.90" stroke="#000" stroke-width="1.30" fill="none"/>
<path d="M441.90 314.20V411.90" stroke="#000" stroke-width="1.50" fill="none"/>
<line x1="390.80" y1="411.20" x2="390.80" y2="415.70" stroke="#000" stroke-width="1.4"/>
<text x="392.00" y="432.2" font-size="16" text-anchor="middle" fill="#1a1a1a">1</text>
<line x1="408.20" y1="411.20" x2="408.20" y2="415.70" stroke="#000" stroke-width="1.4"/>
<text x="409.40" y="432.2" font-size="16" text-anchor="middle" fill="#1a1a1a">2</text>
<line x1="425.60" y1="411.20" x2="425.60" y2="415.70" stroke="#000" stroke-width="1.4"/>
<text x="426.80" y="432.2" font-size="16" text-anchor="middle" fill="#1a1a1a">3</text>
<text x="484.95" y="306.00" font-size="13" text-anchor="middle" fill="#1a1a1a">SKMEL13</text>
<path d="M455.65 332.92V345.92M453.55 332.92H457.75M453.55 345.92H457.75" stroke="#6d6d6d" stroke-width="1.7" fill="none"/>
<path d="M464.05 329.56V332.56M461.95 329.56H466.15M461.95 332.56H466.15" stroke="#6d6d6d" stroke-width="1.7" fill="none"/>
<path d="M472.45 330.63V342.63M470.35 330.63H474.55M470.35 342.63H474.55" stroke="#6d6d6d" stroke-width="1.7" fill="none"/>
<path d="M480.85 359.69V362.69M478.75 359.69H482.95M478.75 362.69H482.95" stroke="#6d6d6d" stroke-width="1.7" fill="none"/>
<path d="M489.25 398.17V401.17M487.15 398.17H491.35M487.15 401.17H491.35" stroke="#6d6d6d" stroke-width="1.7" fill="none"/>
<path d="M497.65 399.78V402.78M495.55 399.78H499.75M495.55 402.78H499.75" stroke="#6d6d6d" stroke-width="1.7" fill="none"/>
<path d="M506.05 398.17V401.17M503.95 398.17H508.15M503.95 401.17H508.15" stroke="#6d6d6d" stroke-width="1.7" fill="none"/>
<path d="M455.65 334.40V337.40M453.55 334.40H457.75M453.55 337.40H457.75" stroke="#151515" stroke-width="1.7" fill="none"/>
<path d="M464.05 331.61V334.61M461.95 331.61H466.15M461.95 334.61H466.15" stroke="#151515" stroke-width="1.7" fill="none"/>
<path d="M472.45 333.67V336.67M470.35 333.67H474.55M470.35 336.67H474.55" stroke="#151515" stroke-width="1.7" fill="none"/>
<path d="M480.85 360.20V363.20M478.75 360.20H482.95M478.75 363.20H482.95" stroke="#151515" stroke-width="1.7" fill="none"/>
<path d="M489.25 397.00V400.00M487.15 397.00H491.35M487.15 400.00H491.35" stroke="#151515" stroke-width="1.7" fill="none"/>
<path d="M497.65 399.78V402.78M495.55 399.78H499.75M495.55 402.78H499.75" stroke="#151515" stroke-width="1.7" fill="none"/>
<path d="M506.05 399.12V402.12M503.95 399.12H508.15M503.95 402.12H508.15" stroke="#151515" stroke-width="1.7" fill="none"/>
<polyline points="455.65,339.42 464.05,331.06 472.45,336.63 480.85,361.19 489.25,399.67 497.65,401.28 506.05,399.67" fill="none" stroke="#6d6d6d" stroke-width="2.2" stroke-linejoin="round"/>
<polyline points="455.65,335.90 464.05,333.11 472.45,335.17 480.85,361.70 489.25,398.50 497.65,401.28 506.05,400.62" fill="none" stroke="#151515" stroke-width="2.2" stroke-linejoin="round"/>
<circle cx="455.65" cy="339.42" r="3.50" fill="#6d6d6d"/>
<circle cx="464.05" cy="331.06" r="3.50" fill="#6d6d6d"/>
<circle cx="472.45" cy="336.63" r="3.50" fill="#6d6d6d"/>
<circle cx="480.85" cy="361.19" r="3.50" fill="#6d6d6d"/>
<circle cx="489.25" cy="399.67" r="3.50" fill="#6d6d6d"/>
<circle cx="497.65" cy="401.28" r="3.50" fill="#6d6d6d"/>
<circle cx="506.05" cy="399.67" r="3.50" fill="#6d6d6d"/>
<circle cx="455.65" cy="335.90" r="3.50" fill="#151515"/>
<circle cx="464.05" cy="333.11" r="3.50" fill="#151515"/>
<circle cx="472.45" cy="335.17" r="3.50" fill="#151515"/>
<circle cx="480.85" cy="361.70" r="3.50" fill="#151515"/>
<circle cx="489.25" cy="398.50" r="3.50" fill="#151515"/>
<circle cx="497.65" cy="401.28" r="3.50" fill="#151515"/>
<circle cx="506.05" cy="400.62" r="3.50" fill="#151515"/>
<path d="M451.20 315.30H510.50" stroke="#222" stroke-width="1.2" fill="none"/>
<path d="M451.20 411.20H510.50" stroke="#000" stroke-width="1.4" fill="none"/>
<path d="M451.20 314.20V411.90" stroke="#000" stroke-width="2.20" fill="none"/>
<path d="M510.50 314.20V411.90" stroke="#000" stroke-width="2.20" fill="none"/>
<line x1="458.00" y1="411.20" x2="458.00" y2="415.70" stroke="#000" stroke-width="1.4"/>
<text x="459.20" y="432.2" font-size="16" text-anchor="middle" fill="#1a1a1a">1</text>
<line x1="475.40" y1="411.20" x2="475.40" y2="415.70" stroke="#000" stroke-width="1.4"/>
<text x="476.60" y="432.2" font-size="16" text-anchor="middle" fill="#1a1a1a">2</text>
<line x1="492.80" y1="411.20" x2="492.80" y2="415.70" stroke="#000" stroke-width="1.4"/>
<text x="494.00" y="432.2" font-size="16" text-anchor="middle" fill="#1a1a1a">3</text>
<text x="552.05" y="306.00" font-size="13" text-anchor="middle" fill="#1a1a1a">SKMEL28</text>
<path d="M523.15 344.15V347.15M521.05 344.15H525.25M521.05 347.15H525.25" stroke="#6d6d6d" stroke-width="1.7" fill="none"/>
<path d="M531.55 330.73V344.73M529.45 330.73H533.65M529.45 344.73H533.65" stroke="#6d6d6d" stroke-width="1.7" fill="none"/>
<path d="M539.95 339.97V342.97M537.85 339.97H542.05M537.85 342.97H542.05" stroke="#6d6d6d" stroke-width="1.7" fill="none"/>
<path d="M548.35 365.70V368.70M546.25 365.70H550.45M546.25 368.70H550.45" stroke="#6d6d6d" stroke-width="1.7" fill="none"/>
<path d="M556.75 376.18V379.18M554.65 376.18H558.85M554.65 379.18H558.85" stroke="#6d6d6d" stroke-width="1.7" fill="none"/>
<path d="M565.15 381.02V384.02M563.05 381.02H567.25M563.05 384.02H567.25" stroke="#6d6d6d" stroke-width="1.7" fill="none"/>
<path d="M573.55 372.29V380.29M571.45 372.29H575.65M571.45 380.29H575.65" stroke="#6d6d6d" stroke-width="1.7" fill="none"/>
<path d="M523.15 336.08V344.08M521.05 336.08H525.25M521.05 344.08H525.25" stroke="#151515" stroke-width="1.7" fill="none"/>
<path d="M531.55 335.06V338.06M529.45 335.06H533.65M529.45 338.06H533.65" stroke="#151515" stroke-width="1.7" fill="none"/>
<path d="M539.95 323.04V332.04M537.85 323.04H542.05M537.85 332.04H542.05" stroke="#151515" stroke-width="1.7" fill="none"/>
<path d="M548.35 346.22V356.22M546.25 346.22H550.45M546.25 356.22H550.45" stroke="#151515" stroke-width="1.7" fill="none"/>
<path d="M556.75 355.97V365.97M554.65 355.97H558.85M554.65 365.97H558.85" stroke="#151515" stroke-width="1.7" fill="none"/>
<path d="M565.15 362.91V365.91M563.05 362.91H567.25M563.05 365.91H567.25" stroke="#151515" stroke-width="1.7" fill="none"/>
<path d="M573.55 367.09V370.09M571.45 367.09H575.65M571.45 370.09H575.65" stroke="#151515" stroke-width="1.7" fill="none"/>
<polyline points="523.15,345.65 531.55,337.73 539.95,341.47 548.35,367.20 556.75,377.68 565.15,382.52 573.55,376.29" fill="none" stroke="#6d6d6d" stroke-width="2.2" stroke-linejoin="round"/>
<polyline points="523.15,340.08 531.55,336.56 539.95,327.54 548.35,351.22 556.75,360.97 565.15,364.41 573.55,368.59" fill="none" stroke="#151515" stroke-width="2.2" stroke-linejoin="round"/>
<circle cx="523.15" cy="345.65" r="3.50" fill="#6d6d6d"/>
<circle cx="531.55" cy="337.73" r="3.50" fill="#6d6d6d"/>
<circle cx="539.95" cy="341.47" r="3.50" fill="#6d6d6d"/>
<circle cx="548.35" cy="367.20" r="3.50" fill="#6d6d6d"/>
<circle cx="556.75" cy="377.68" r="3.50" fill="#6d6d6d"/>
<circle cx="565.15" cy="382.52" r="3.50" fill="#6d6d6d"/>
<circle cx="573.55" cy="376.29" r="3.50" fill="#6d6d6d"/>
<circle cx="523.15" cy="340.08" r="3.50" fill="#151515"/>
<circle cx="531.55" cy="336.56" r="3.50" fill="#151515"/>
<circle cx="539.95" cy="327.54" r="3.50" fill="#151515"/>
<circle cx="548.35" cy="351.22" r="3.50" fill="#151515"/>
<circle cx="556.75" cy="360.97" r="3.50" fill="#151515"/>
<circle cx="565.15" cy="364.41" r="3.50" fill="#151515"/>
<circle cx="573.55" cy="368.59" r="3.50" fill="#151515"/>
<path d="M519.40 315.30H577.30" stroke="#222" stroke-width="1.2" fill="none"/>
<path d="M519.40 411.20H577.30" stroke="#000" stroke-width="1.4" fill="none"/>
<path d="M519.40 314.20V411.90" stroke="#000" stroke-width="1.40" fill="none"/>
<path d="M577.30 314.20V411.90" stroke="#000" stroke-width="1.40" fill="none"/>
<line x1="526.20" y1="411.20" x2="526.20" y2="415.70" stroke="#000" stroke-width="1.4"/>
<text x="527.40" y="432.2" font-size="16" text-anchor="middle" fill="#1a1a1a">1</text>
<line x1="543.60" y1="411.20" x2="543.60" y2="415.70" stroke="#000" stroke-width="1.4"/>
<text x="544.80" y="432.2" font-size="16" text-anchor="middle" fill="#1a1a1a">2</text>
<line x1="561.00" y1="411.20" x2="561.00" y2="415.70" stroke="#000" stroke-width="1.4"/>
<text x="562.20" y="432.2" font-size="16" text-anchor="middle" fill="#1a1a1a">3</text>
<text x="185.6" y="454.4" font-size="19.45" fill="#000">Log (nM Treatment Concentration)</text>
<text transform="translate(67.7,0) rotate(-90)" font-size="19.3" fill="#000"><tspan x="-330.1">%</tspan><tspan x="-308.0">o</tspan><tspan x="-297.2">f</tspan><tspan x="-286.0">V</tspan><tspan x="-275.3">e</tspan><tspan x="-264.1">h</tspan><tspan x="-252.9">i</tspan><tspan x="-247.7">c</tspan><tspan x="-242.2">l</tspan><tspan x="-236.9">e</tspan><tspan x="-221.1">C</tspan><tspan x="-205.4">o</tspan><tspan x="-195.5">n</tspan><tspan x="-185.0">t</tspan><tspan x="-179.6">r</tspan><tspan x="-177.8">o</tspan><tspan x="-167.1">l</tspan></text>
<text x="606.1" y="205.4" font-size="19.4" fill="#000">Drug</text>
<rect x="607.3" y="213.60" width="25" height="25" fill="#f2f2f2"/>
<line x1="608" y1="226.50" x2="630.7" y2="226.50" stroke="#6d6d6d" stroke-width="1.9"/>
<circle cx="619.5" cy="226.50" r="3.7" fill="#6d6d6d"/>
<text x="637" y="232.90" font-size="17.8" fill="#000">TRX−E−002−1</text>
<rect x="607.3" y="241.60" width="25" height="25" fill="#f2f2f2"/>
<line x1="608" y1="254.50" x2="630.7" y2="254.50" stroke="#151515" stroke-width="1.9"/>
<circle cx="619.5" cy="254.50" r="3.7" fill="#151515"/>
<text x="637" y="260.90" font-size="17.8" fill="#000">TRX−E−009−1</text>
<text x="0" y="496.4" font-size="28" fill="#000">B<tspan dx="1.2">)</tspan></text>
<rect x="119.06" y="625.81" width="21.19" height="59.09" fill="#c8c8c8" stroke="#333" stroke-width="1"/>
<rect x="140.25" y="681.49" width="21.19" height="3.41" fill="#1a1a1a" stroke="#333" stroke-width="1"/>
<path d="M129.66 622.55V629.06M126.26 622.55H133.06M126.26 629.06H133.06" stroke="#1a1a1a" stroke-width="3.7" fill="none"/>
<path d="M150.85 681.08V681.89M147.45 681.08H154.25M147.45 681.89H154.25" stroke="#1a1a1a" stroke-width="3.7" fill="none"/>
<rect x="166.15" y="627.20" width="21.19" height="57.70" fill="#c8c8c8" stroke="#333" stroke-width="1"/>
<rect x="187.35" y="680.56" width="21.19" height="4.34" fill="#1a1a1a" stroke="#333" stroke-width="1"/>
<path d="M176.75 623.02V631.39M173.35 623.02H180.15M173.35 631.39H180.15" stroke="#1a1a1a" stroke-width="3.7" fill="none"/>
<path d="M197.94 680.15V680.96M194.54 680.15H201.34M194.54 680.96H201.34" stroke="#1a1a1a" stroke-width="3.7" fill="none"/>
<rect x="112.00" y="522.60" width="103.60" height="169.60" fill="none" stroke="#333" stroke-width="1.2"/>
<text x="164.60" y="515.6" font-size="14" text-anchor="middle" fill="#1a1a1a">A2058</text>
<line x1="109.00" y1="684.90" x2="112.00" y2="684.90" stroke="#1a1a1a" stroke-width="1.2"/>
<text x="108.10" y="689.90" font-size="14" text-anchor="end" fill="#1a1a1a">0</text>
<line x1="109.00" y1="646.12" x2="112.00" y2="646.12" stroke="#1a1a1a" stroke-width="1.2"/>
<text x="108.10" y="651.12" font-size="14" text-anchor="end" fill="#1a1a1a">25</text>
<line x1="109.00" y1="607.35" x2="112.00" y2="607.35" stroke="#1a1a1a" stroke-width="1.2"/>
<text x="108.10" y="612.35" font-size="14" text-anchor="end" fill="#1a1a1a">50</text>
<line x1="109.00" y1="568.58" x2="112.00" y2="568.58" stroke="#1a1a1a" stroke-width="1.2"/>
<text x="108.10" y="573.58" font-size="14" text-anchor="end" fill="#1a1a1a">75</text>
<line x1="109.00" y1="529.80" x2="112.00" y2="529.80" stroke="#1a1a1a" stroke-width="1.2"/>
<text x="108.10" y="534.80" font-size="14" text-anchor="end" fill="#1a1a1a">100</text>
<line x1="140.25" y1="692.20" x2="140.25" y2="695.20" stroke="#1a1a1a" stroke-width="1.2"/>
<text transform="translate(152.45,697.70) rotate(-45)" font-size="12.6" text-anchor="end" fill="#1a1a1a">TRX−E−002−1</text>
<line x1="187.35" y1="692.20" x2="187.35" y2="695.20" stroke="#1a1a1a" stroke-width="1.2"/>
<text transform="translate(199.55,697.70) rotate(-45)" font-size="12.6" text-anchor="end" fill="#1a1a1a">TRX−E−009−1</text>
<rect x="252.31" y="579.43" width="21.03" height="105.47" fill="#c8c8c8" stroke="#333" stroke-width="1"/>
<rect x="273.34" y="636.82" width="21.03" height="48.08" fill="#1a1a1a" stroke="#333" stroke-width="1"/>
<path d="M262.82 574.78V584.09M259.42 574.78H266.22M259.42 584.09H266.22" stroke="#1a1a1a" stroke-width="3.7" fill="none"/>
<path d="M283.85 634.96V638.68M280.45 634.96H287.25M280.45 638.68H287.25" stroke="#1a1a1a" stroke-width="3.7" fill="none"/>
<rect x="299.04" y="581.76" width="21.03" height="103.14" fill="#c8c8c8" stroke="#333" stroke-width="1"/>
<rect x="320.06" y="636.82" width="21.03" height="48.08" fill="#1a1a1a" stroke="#333" stroke-width="1"/>
<path d="M309.55 577.57V585.95M306.15 577.57H312.95M306.15 585.95H312.95" stroke="#1a1a1a" stroke-width="3.7" fill="none"/>
<path d="M330.58 633.87V639.77M327.18 633.87H333.98M327.18 639.77H333.98" stroke="#1a1a1a" stroke-width="3.7" fill="none"/>
<rect x="245.30" y="522.60" width="102.80" height="169.60" fill="none" stroke="#333" stroke-width="1.2"/>
<text y="515.6" font-size="14" fill="#1a1a1a"><tspan x="285.3">N</tspan><tspan x="295.6">F</tspan><tspan x="301">F</tspan></text>
<line x1="242.30" y1="684.90" x2="245.30" y2="684.90" stroke="#1a1a1a" stroke-width="1.2"/>
<text x="241.40" y="689.90" font-size="14" text-anchor="end" fill="#1a1a1a">0</text>
<line x1="242.30" y1="646.12" x2="245.30" y2="646.12" stroke="#1a1a1a" stroke-width="1.2"/>
<text x="241.40" y="651.12" font-size="14" text-anchor="end" fill="#1a1a1a">25</text>
<line x1="242.30" y1="607.35" x2="245.30" y2="607.35" stroke="#1a1a1a" stroke-width="1.2"/>
<text x="241.40" y="612.35" font-size="14" text-anchor="end" fill="#1a1a1a">50</text>
<line x1="242.30" y1="568.58" x2="245.30" y2="568.58" stroke="#1a1a1a" stroke-width="1.2"/>
<text x="241.40" y="573.58" font-size="14" text-anchor="end" fill="#1a1a1a">75</text>
<line x1="242.30" y1="529.80" x2="245.30" y2="529.80" stroke="#1a1a1a" stroke-width="1.2"/>
<text x="241.40" y="534.80" font-size="14" text-anchor="end" fill="#1a1a1a">100</text>
<line x1="273.34" y1="692.20" x2="273.34" y2="695.20" stroke="#1a1a1a" stroke-width="1.2"/>
<text transform="translate(285.54,697.70) rotate(-45)" font-size="12.6" text-anchor="end" fill="#1a1a1a">TRX−E−002−1</text>
<line x1="320.06" y1="692.20" x2="320.06" y2="695.20" stroke="#1a1a1a" stroke-width="1.2"/>
<text transform="translate(332.26,697.70) rotate(-45)" font-size="12.6" text-anchor="end" fill="#1a1a1a">TRX−E−009−1</text>
<text transform="translate(80,0) rotate(-90)" font-size="15.3" fill="#000"><tspan x="-679.9">%</tspan><tspan x="-662.4">o</tspan><tspan x="-654.2">f</tspan><tspan x="-644.6">V</tspan><tspan x="-634.4">e</tspan><tspan x="-627.0">h</tspan><tspan x="-618.6">i</tspan><tspan x="-615.2">c</tspan><tspan x="-607.2">l</tspan><tspan x="-604.4">e</tspan><tspan x="-590.9">C</tspan><tspan x="-578.5">o</tspan><tspan x="-570.7">n</tspan><tspan x="-562.6">t</tspan><tspan x="-558.0">r</tspan><tspan x="-552.7">o</tspan><tspan x="-545.0">l</tspan></text>
<text x="369.6" y="588.9" font-size="15.3" fill="#000">Treatment</text>
<rect x="370.3" y="595.5" width="20" height="19" fill="#c8c8c8" stroke="#333" stroke-width="1"/>
<rect x="370.3" y="618.7" width="20" height="19.6" fill="#1a1a1a" stroke="#1a1a1a" stroke-width="1"/>
<text x="393" y="610.6" font-size="15.2" fill="#000">24h Wash</text>
<text x="393" y="633.8" font-size="15.2" fill="#000">72h</text>
</svg></body></html>
